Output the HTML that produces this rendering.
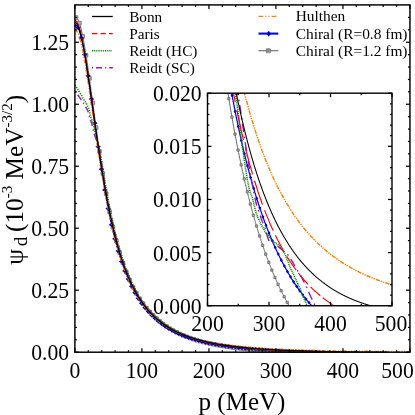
<!DOCTYPE html>
<html><head><meta charset="utf-8"><title>Deuteron wave function</title>
<style>html,body{margin:0;padding:0;background:#fff;}body{width:415px;height:415px;overflow:hidden;position:relative;font-family:"Liberation Serif",serif;}</style></head>
<body>
<svg width="415" height="415" viewBox="0 0 415 415" style="position:absolute;left:0;top:0;will-change:transform">
<rect x="0" y="0" width="415" height="415" fill="#ffffff"/>
<defs><clipPath id="cm"><rect x="74.90" y="4.90" width="335.05" height="347.90"/></clipPath><clipPath id="ci"><rect x="207.50" y="93.20" width="184.50" height="212.55"/></clipPath></defs>
<g clip-path="url(#cm)" fill="none" stroke-linejoin="round">
<path d="M74.90 17.49 L75.57 17.37 L76.24 17.59 L76.91 18.15 L77.58 19.04 L78.25 20.26 L78.92 21.80 L79.59 23.66 L80.26 25.82 L80.93 28.27 L81.60 31.00 L82.27 33.99 L82.94 37.23 L83.61 40.71 L84.28 44.40 L84.95 48.30 L85.62 52.37 L86.29 56.62 L86.96 61.02 L87.63 65.54 L88.30 70.19 L88.97 74.93 L89.64 79.74 L90.31 84.62 L90.98 89.53 L91.65 94.48 L92.32 99.45 L92.99 104.43 L93.66 109.41 L94.33 114.38 L95.00 119.32 L95.67 124.24 L96.34 129.12 L97.01 133.96 L97.68 138.75 L98.35 143.48 L99.02 148.16 L99.69 152.77 L100.36 157.32 L101.03 161.79 L101.70 166.19 L102.37 170.52 L103.04 174.77 L103.71 178.94 L104.38 183.03 L105.05 187.05 L105.72 190.97 L106.39 194.80 L107.06 198.54 L107.73 202.18 L108.41 205.73 L109.08 209.19 L109.75 212.55 L110.42 215.83 L111.09 219.01 L111.76 222.11 L112.43 225.12 L113.10 228.05 L113.77 230.89 L114.44 233.65 L115.11 236.33 L115.78 238.94 L116.45 241.48 L117.12 243.95 L117.79 246.36 L118.46 248.71 L119.13 251.00 L119.80 253.23 L120.47 255.40 L121.14 257.51 L121.81 259.58 L122.48 261.58 L123.15 263.54 L123.82 265.45 L124.49 267.30 L125.16 269.11 L125.83 270.88 L126.50 272.59 L127.17 274.27 L127.84 275.90 L128.51 277.49 L129.18 279.04 L129.85 280.55 L130.52 282.02 L131.19 283.46 L131.86 284.86 L132.53 286.22 L133.20 287.55 L133.87 288.85 L134.54 290.12 L135.21 291.35 L135.88 292.56 L136.55 293.73 L137.22 294.88 L137.89 296.00 L138.56 297.09 L139.23 298.16 L139.90 299.20 L140.57 300.21 L141.24 301.20 L141.91 302.17 L142.58 303.12 L143.25 304.04 L143.92 304.94 L144.59 305.82 L145.26 306.67 L145.93 307.51 L146.60 308.33 L147.27 309.13 L147.94 309.91 L148.61 310.67 L149.28 311.42 L149.95 312.15 L150.62 312.86 L151.29 313.56 L151.96 314.24 L152.63 314.91 L153.30 315.57 L153.97 316.21 L154.64 316.83 L155.31 317.45 L155.98 318.08 L156.65 318.70 L157.32 319.31 L157.99 319.90 L158.66 320.49 L159.33 321.05 L160.00 321.61 L160.67 322.16 L161.34 322.69 L162.01 323.22 L162.68 323.73 L163.35 324.23 L164.02 324.73 L164.69 325.21 L165.36 325.68 L166.03 326.15 L166.70 326.60 L167.37 327.05 L168.04 327.48 L168.71 327.91 L169.38 328.33 L170.05 328.74 L170.72 329.15 L171.39 329.54 L172.06 329.93 L172.73 330.31 L173.40 330.69 L174.07 331.05 L174.74 331.41 L175.41 331.77 L176.09 332.11 L176.76 332.45 L177.43 332.79 L178.10 333.11 L178.77 333.44 L179.44 333.75 L180.11 334.06 L180.78 334.37 L181.45 334.66 L182.12 334.96 L182.79 335.25 L183.46 335.53 L184.13 335.81 L184.80 336.08 L185.47 336.35 L186.14 336.61 L186.81 336.87 L187.48 337.13 L188.15 337.38 L188.82 337.62 L189.49 337.86 L190.16 338.10 L190.83 338.33 L191.50 338.56 L192.17 338.79 L192.84 339.01 L193.51 339.23 L194.18 339.44 L194.85 339.65 L195.52 339.86 L196.19 340.06 L196.86 340.26 L197.53 340.46 L198.20 340.65 L198.87 340.84 L199.54 341.03 L200.21 341.22 L200.88 341.40 L201.55 341.58 L202.22 341.75 L202.89 341.92 L203.56 342.09 L204.23 342.26 L204.90 342.43 L205.57 342.59 L206.24 342.75 L206.91 342.91 L207.58 343.06 L208.25 343.21 L208.92 343.36 L209.59 343.51 L210.26 343.65 L210.93 343.80 L211.60 343.94 L212.27 344.08 L212.94 344.21 L213.61 344.35 L214.28 344.48 L214.95 344.61 L215.62 344.74 L216.29 344.86 L216.96 344.99 L217.63 345.11 L218.30 345.23 L218.97 345.35 L219.64 345.47 L220.31 345.58 L220.98 345.70 L221.65 345.81 L222.32 345.92 L222.99 346.03 L223.66 346.14 L224.33 346.24 L225.00 346.35 L225.67 346.45 L226.34 346.55 L227.01 346.65 L227.68 346.75 L228.35 346.84 L229.02 346.94 L229.69 347.03 L230.36 347.13 L231.03 347.22 L231.70 347.31 L232.37 347.40 L233.04 347.48 L233.71 347.57 L234.38 347.66 L235.05 347.74 L235.72 347.82 L236.39 347.90 L237.06 347.98 L237.73 348.06 L238.40 348.14 L239.07 348.22 L239.74 348.30 L240.41 348.37 L241.08 348.44 L241.75 348.52 L242.42 348.59 L243.10 348.66 L243.77 348.73 L244.44 348.80 L245.11 348.87 L245.78 348.93 L246.45 349.00 L247.12 349.07 L247.79 349.13 L248.46 349.19 L249.13 349.26 L249.80 349.32 L250.47 349.38 L251.14 349.44 L251.81 349.50 L252.48 349.56 L253.15 349.62 L253.82 349.67 L254.49 349.73 L255.16 349.79 L255.83 349.84 L256.50 349.90 L257.17 349.95 L257.84 350.00 L258.51 350.06 L259.18 350.11 L259.85 350.16 L260.52 350.21 L261.19 350.26 L261.86 350.31 L262.53 350.35 L263.20 350.40 L263.87 350.45 L264.54 350.50 L265.21 350.54 L265.88 350.59 L266.55 350.63 L267.22 350.68 L267.89 350.72 L268.56 350.76 L269.23 350.80 L269.90 350.85 L270.57 350.89 L271.24 350.93 L271.91 350.97 L272.58 351.01 L273.25 351.05 L273.92 351.09 L274.59 351.12 L275.26 351.16 L275.93 351.20 L276.60 351.24 L277.27 351.27 L277.94 351.31 L278.61 351.35 L279.28 351.38 L279.95 351.41 L280.62 351.45 L281.29 351.48 L281.96 351.52 L282.63 351.55 L283.30 351.58 L283.97 351.61 L284.64 351.65 L285.31 351.68 L285.98 351.71 L286.65 351.74 L287.32 351.77 L287.99 351.80 L288.66 351.83 L289.33 351.86 L290.00 351.89 L290.67 351.92 L291.34 351.94 L292.01 351.97 L292.68 352.00 L293.35 352.03 L294.02 352.05 L294.69 352.08 L295.36 352.10 L296.03 352.13 L296.70 352.16 L297.37 352.18 L297.87 352.20" stroke="#5c5c5c" stroke-width="0.95"/>
<rect x="74.24" y="15.69" width="3.60" height="3.60" fill="#b4b4b4" stroke="#606060" stroke-width="0.7"/>
<rect x="77.59" y="21.27" width="3.60" height="3.60" fill="#b4b4b4" stroke="#606060" stroke-width="0.7"/>
<rect x="80.94" y="34.43" width="3.60" height="3.60" fill="#b4b4b4" stroke="#606060" stroke-width="0.7"/>
<rect x="84.29" y="53.53" width="3.60" height="3.60" fill="#b4b4b4" stroke="#606060" stroke-width="0.7"/>
<rect x="87.64" y="76.49" width="3.60" height="3.60" fill="#b4b4b4" stroke="#606060" stroke-width="0.7"/>
<rect x="90.99" y="101.14" width="3.60" height="3.60" fill="#b4b4b4" stroke="#606060" stroke-width="0.7"/>
<rect x="94.34" y="125.86" width="3.60" height="3.60" fill="#b4b4b4" stroke="#606060" stroke-width="0.7"/>
<rect x="97.69" y="149.59" width="3.60" height="3.60" fill="#b4b4b4" stroke="#606060" stroke-width="0.7"/>
<rect x="101.04" y="171.70" width="3.60" height="3.60" fill="#b4b4b4" stroke="#606060" stroke-width="0.7"/>
<rect x="104.39" y="191.86" width="3.60" height="3.60" fill="#b4b4b4" stroke="#606060" stroke-width="0.7"/>
<rect x="107.74" y="209.75" width="3.60" height="3.60" fill="#b4b4b4" stroke="#606060" stroke-width="0.7"/>
<rect x="111.09" y="225.38" width="3.60" height="3.60" fill="#b4b4b4" stroke="#606060" stroke-width="0.7"/>
<rect x="114.45" y="238.92" width="3.60" height="3.60" fill="#b4b4b4" stroke="#606060" stroke-width="0.7"/>
<rect x="117.80" y="250.76" width="3.60" height="3.60" fill="#b4b4b4" stroke="#606060" stroke-width="0.7"/>
<rect x="121.15" y="261.16" width="3.60" height="3.60" fill="#b4b4b4" stroke="#606060" stroke-width="0.7"/>
<rect x="124.50" y="270.28" width="3.60" height="3.60" fill="#b4b4b4" stroke="#606060" stroke-width="0.7"/>
<rect x="127.85" y="278.30" width="3.60" height="3.60" fill="#b4b4b4" stroke="#606060" stroke-width="0.7"/>
<rect x="131.20" y="285.36" width="3.60" height="3.60" fill="#b4b4b4" stroke="#606060" stroke-width="0.7"/>
<rect x="134.55" y="291.58" width="3.60" height="3.60" fill="#b4b4b4" stroke="#606060" stroke-width="0.7"/>
<rect x="137.90" y="297.09" width="3.60" height="3.60" fill="#b4b4b4" stroke="#606060" stroke-width="0.7"/>
<rect x="141.25" y="301.96" width="3.60" height="3.60" fill="#b4b4b4" stroke="#606060" stroke-width="0.7"/>
<rect x="144.60" y="306.29" width="3.60" height="3.60" fill="#b4b4b4" stroke="#606060" stroke-width="0.7"/>
<rect x="147.95" y="310.13" width="3.60" height="3.60" fill="#b4b4b4" stroke="#606060" stroke-width="0.7"/>
<rect x="151.30" y="313.57" width="3.60" height="3.60" fill="#b4b4b4" stroke="#606060" stroke-width="0.7"/>
<rect x="154.65" y="316.72" width="3.60" height="3.60" fill="#b4b4b4" stroke="#606060" stroke-width="0.7"/>
<rect x="158.00" y="319.65" width="3.60" height="3.60" fill="#b4b4b4" stroke="#606060" stroke-width="0.7"/>
<rect x="161.35" y="322.29" width="3.60" height="3.60" fill="#b4b4b4" stroke="#606060" stroke-width="0.7"/>
<rect x="164.70" y="324.67" width="3.60" height="3.60" fill="#b4b4b4" stroke="#606060" stroke-width="0.7"/>
<rect x="168.05" y="326.82" width="3.60" height="3.60" fill="#b4b4b4" stroke="#606060" stroke-width="0.7"/>
<rect x="171.40" y="328.78" width="3.60" height="3.60" fill="#b4b4b4" stroke="#606060" stroke-width="0.7"/>
<rect x="174.75" y="330.55" width="3.60" height="3.60" fill="#b4b4b4" stroke="#606060" stroke-width="0.7"/>
<rect x="178.10" y="332.17" width="3.60" height="3.60" fill="#b4b4b4" stroke="#606060" stroke-width="0.7"/>
<rect x="181.46" y="333.64" width="3.60" height="3.60" fill="#b4b4b4" stroke="#606060" stroke-width="0.7"/>
<rect x="184.81" y="334.99" width="3.60" height="3.60" fill="#b4b4b4" stroke="#606060" stroke-width="0.7"/>
<rect x="188.16" y="336.23" width="3.60" height="3.60" fill="#b4b4b4" stroke="#606060" stroke-width="0.7"/>
<rect x="191.51" y="337.36" width="3.60" height="3.60" fill="#b4b4b4" stroke="#606060" stroke-width="0.7"/>
<rect x="194.86" y="338.40" width="3.60" height="3.60" fill="#b4b4b4" stroke="#606060" stroke-width="0.7"/>
<rect x="198.21" y="339.36" width="3.60" height="3.60" fill="#b4b4b4" stroke="#606060" stroke-width="0.7"/>
<rect x="201.56" y="340.24" width="3.60" height="3.60" fill="#b4b4b4" stroke="#606060" stroke-width="0.7"/>
<rect x="204.91" y="341.06" width="3.60" height="3.60" fill="#b4b4b4" stroke="#606060" stroke-width="0.7"/>
<rect x="208.26" y="341.81" width="3.60" height="3.60" fill="#b4b4b4" stroke="#606060" stroke-width="0.7"/>
<rect x="211.61" y="342.51" width="3.60" height="3.60" fill="#b4b4b4" stroke="#606060" stroke-width="0.7"/>
<rect x="214.96" y="343.15" width="3.60" height="3.60" fill="#b4b4b4" stroke="#606060" stroke-width="0.7"/>
<rect x="218.31" y="343.75" width="3.60" height="3.60" fill="#b4b4b4" stroke="#606060" stroke-width="0.7"/>
<rect x="221.66" y="344.30" width="3.60" height="3.60" fill="#b4b4b4" stroke="#606060" stroke-width="0.7"/>
<rect x="225.01" y="344.82" width="3.60" height="3.60" fill="#b4b4b4" stroke="#606060" stroke-width="0.7"/>
<rect x="228.36" y="345.30" width="3.60" height="3.60" fill="#b4b4b4" stroke="#606060" stroke-width="0.7"/>
<rect x="231.71" y="345.74" width="3.60" height="3.60" fill="#b4b4b4" stroke="#606060" stroke-width="0.7"/>
<rect x="235.06" y="346.16" width="3.60" height="3.60" fill="#b4b4b4" stroke="#606060" stroke-width="0.7"/>
<rect x="238.41" y="346.55" width="3.60" height="3.60" fill="#b4b4b4" stroke="#606060" stroke-width="0.7"/>
<rect x="241.76" y="346.91" width="3.60" height="3.60" fill="#b4b4b4" stroke="#606060" stroke-width="0.7"/>
<rect x="245.11" y="347.25" width="3.60" height="3.60" fill="#b4b4b4" stroke="#606060" stroke-width="0.7"/>
<rect x="248.47" y="347.56" width="3.60" height="3.60" fill="#b4b4b4" stroke="#606060" stroke-width="0.7"/>
<rect x="251.82" y="347.86" width="3.60" height="3.60" fill="#b4b4b4" stroke="#606060" stroke-width="0.7"/>
<rect x="255.17" y="348.13" width="3.60" height="3.60" fill="#b4b4b4" stroke="#606060" stroke-width="0.7"/>
<rect x="258.52" y="348.39" width="3.60" height="3.60" fill="#b4b4b4" stroke="#606060" stroke-width="0.7"/>
<rect x="261.87" y="348.63" width="3.60" height="3.60" fill="#b4b4b4" stroke="#606060" stroke-width="0.7"/>
<rect x="265.22" y="348.86" width="3.60" height="3.60" fill="#b4b4b4" stroke="#606060" stroke-width="0.7"/>
<rect x="268.57" y="349.08" width="3.60" height="3.60" fill="#b4b4b4" stroke="#606060" stroke-width="0.7"/>
<rect x="271.92" y="349.27" width="3.60" height="3.60" fill="#b4b4b4" stroke="#606060" stroke-width="0.7"/>
<rect x="275.27" y="349.46" width="3.60" height="3.60" fill="#b4b4b4" stroke="#606060" stroke-width="0.7"/>
<rect x="278.62" y="349.64" width="3.60" height="3.60" fill="#b4b4b4" stroke="#606060" stroke-width="0.7"/>
<rect x="281.97" y="349.80" width="3.60" height="3.60" fill="#b4b4b4" stroke="#606060" stroke-width="0.7"/>
<rect x="285.32" y="349.96" width="3.60" height="3.60" fill="#b4b4b4" stroke="#606060" stroke-width="0.7"/>
<rect x="288.67" y="350.11" width="3.60" height="3.60" fill="#b4b4b4" stroke="#606060" stroke-width="0.7"/>
<rect x="292.02" y="350.24" width="3.60" height="3.60" fill="#b4b4b4" stroke="#606060" stroke-width="0.7"/>
<rect x="295.37" y="350.37" width="3.60" height="3.60" fill="#b4b4b4" stroke="#606060" stroke-width="0.7"/>
<path d="M74.90 25.40 L75.57 25.29 L76.24 25.52 L76.91 26.09 L77.58 26.98 L78.25 28.20 L78.92 29.74 L79.59 31.59 L80.26 33.73 L80.93 36.15 L81.60 38.85 L82.27 41.80 L82.94 44.99 L83.61 48.40 L84.28 52.02 L84.95 55.83 L85.62 59.82 L86.29 63.96 L86.96 68.24 L87.63 72.64 L88.30 77.14 L88.97 81.73 L89.64 86.37 L90.31 91.05 L90.98 95.77 L91.65 100.51 L92.32 105.27 L92.99 110.06 L93.66 114.87 L94.33 119.68 L95.00 124.49 L95.67 129.28 L96.34 134.05 L97.01 138.78 L97.68 143.48 L98.35 148.13 L99.02 152.73 L99.69 157.27 L100.36 161.75 L101.03 166.17 L101.70 170.52 L102.37 174.79 L103.04 178.99 L103.71 183.11 L104.38 187.16 L105.05 191.12 L105.72 195.00 L106.39 198.79 L107.06 202.48 L107.73 206.07 L108.41 209.57 L109.08 212.98 L109.75 216.30 L110.42 219.52 L111.09 222.65 L111.76 225.69 L112.43 228.64 L113.10 231.50 L113.77 234.28 L114.44 236.97 L115.11 239.58 L115.78 242.11 L116.45 244.58 L117.12 246.98 L117.79 249.32 L118.46 251.61 L119.13 253.83 L119.80 256.00 L120.47 258.11 L121.14 260.17 L121.81 262.17 L122.48 264.12 L123.15 266.02 L123.82 267.88 L124.49 269.68 L125.16 271.44 L125.83 273.15 L126.50 274.82 L127.17 276.45 L127.84 278.04 L128.51 279.58 L129.18 281.09 L129.85 282.56 L130.52 283.99 L131.19 285.38 L131.86 286.74 L132.53 288.07 L133.20 289.36 L133.87 290.63 L134.54 291.86 L135.21 293.06 L135.88 294.23 L136.55 295.37 L137.22 296.48 L137.89 297.57 L138.56 298.63 L139.23 299.67 L139.90 300.68 L140.57 301.67 L141.24 302.63 L141.91 303.57 L142.58 304.49 L143.25 305.39 L143.92 306.26 L144.59 307.12 L145.26 307.95 L145.93 308.76 L146.60 309.56 L147.27 310.33 L147.94 311.09 L148.61 311.83 L149.28 312.56 L149.95 313.27 L150.62 313.96 L151.29 314.64 L151.96 315.30 L152.63 315.95 L153.30 316.58 L153.97 317.21 L154.64 317.82 L155.31 318.41 L155.98 319.02 L156.65 319.62 L157.32 320.20 L157.99 320.77 L158.66 321.33 L159.33 321.88 L160.00 322.41 L160.67 322.93 L161.34 323.45 L162.01 323.95 L162.68 324.44 L163.35 324.92 L164.02 325.39 L164.69 325.85 L165.36 326.31 L166.03 326.75 L166.70 327.18 L167.37 327.61 L168.04 328.03 L168.71 328.43 L169.38 328.83 L170.05 329.23 L170.72 329.61 L171.39 329.99 L172.06 330.36 L172.73 330.72 L173.40 331.08 L174.07 331.43 L174.74 331.77 L175.41 332.11 L176.09 332.44 L176.76 332.76 L177.43 333.08 L178.10 333.39 L178.77 333.69 L179.44 333.99 L180.11 334.29 L180.78 334.58 L181.45 334.86 L182.12 335.14 L182.79 335.41 L183.46 335.68 L184.13 335.94 L184.80 336.20 L185.47 336.46 L186.14 336.71 L186.81 336.95 L187.48 337.19 L188.15 337.43 L188.82 337.66 L189.49 337.89 L190.16 338.12 L190.83 338.34 L191.50 338.55 L192.17 338.77 L192.84 338.98 L193.51 339.18 L194.18 339.38 L194.85 339.58 L195.52 339.78 L196.19 339.97 L196.86 340.16 L197.53 340.35 L198.20 340.53 L198.87 340.71 L199.54 340.89 L200.21 341.06 L200.88 341.23 L201.55 341.40 L202.22 341.57 L202.89 341.73 L203.56 341.89 L204.23 342.05 L204.90 342.20 L205.57 342.36 L206.24 342.51 L206.91 342.66 L207.58 342.80 L208.25 342.94 L208.92 343.09 L209.59 343.22 L210.26 343.36 L210.93 343.50 L211.60 343.63 L212.27 343.76 L212.94 343.89 L213.61 344.02 L214.28 344.14 L214.95 344.26 L215.62 344.38 L216.29 344.50 L216.96 344.62 L217.63 344.74 L218.30 344.85 L218.97 344.96 L219.64 345.07 L220.31 345.18 L220.98 345.29 L221.65 345.39 L222.32 345.50 L222.99 345.60 L223.66 345.70 L224.33 345.80 L225.00 345.90 L225.67 346.00 L226.34 346.09 L227.01 346.19 L227.68 346.28 L228.35 346.37 L229.02 346.46 L229.69 346.55 L230.36 346.64 L231.03 346.72 L231.70 346.81 L232.37 346.89 L233.04 346.97 L233.71 347.06 L234.38 347.14 L235.05 347.22 L235.72 347.29 L236.39 347.37 L237.06 347.45 L237.73 347.52 L238.40 347.60 L239.07 347.67 L239.74 347.74 L240.41 347.81 L241.08 347.88 L241.75 347.95 L242.42 348.02 L243.10 348.09 L243.77 348.15 L244.44 348.22 L245.11 348.28 L245.78 348.35 L246.45 348.41 L247.12 348.47 L247.79 348.53 L248.46 348.59 L249.13 348.65 L249.80 348.71 L250.47 348.77 L251.14 348.83 L251.81 348.88 L252.48 348.94 L253.15 348.99 L253.82 349.05 L254.49 349.10 L255.16 349.15 L255.83 349.21 L256.50 349.26 L257.17 349.31 L257.84 349.36 L258.51 349.41 L259.18 349.46 L259.85 349.51 L260.52 349.55 L261.19 349.60 L261.86 349.65 L262.53 349.69 L263.20 349.74 L263.87 349.78 L264.54 349.83 L265.21 349.87 L265.88 349.92 L266.55 349.96 L267.22 350.00 L267.89 350.04 L268.56 350.08 L269.23 350.12 L269.90 350.16 L270.57 350.20 L271.24 350.24 L271.91 350.28 L272.58 350.32 L273.25 350.36 L273.92 350.39 L274.59 350.43 L275.26 350.47 L275.93 350.50 L276.60 350.54 L277.27 350.57 L277.94 350.61 L278.61 350.64 L279.28 350.68 L279.95 350.71 L280.62 350.74 L281.29 350.78 L281.96 350.81 L282.63 350.84 L283.30 350.87 L283.97 350.90 L284.64 350.93 L285.31 350.96 L285.98 350.99 L286.65 351.02 L287.32 351.05 L287.99 351.08 L288.66 351.11 L289.33 351.14 L290.00 351.17 L290.67 351.19 L291.34 351.22 L292.01 351.25 L292.68 351.27 L293.35 351.30 L294.02 351.33 L294.69 351.35 L295.36 351.38 L296.03 351.40 L296.70 351.43 L297.37 351.45 L298.04 351.48 L298.71 351.50 L299.38 351.53 L300.05 351.55 L300.72 351.57 L301.39 351.60 L302.06 351.62 L302.73 351.64 L303.40 351.66 L304.07 351.68 L304.74 351.71 L305.41 351.73 L306.08 351.75 L306.75 351.77 L307.42 351.79 L308.09 351.81 L308.76 351.83 L309.43 351.85 L310.11 351.87 L310.78 351.89 L311.45 351.91 L312.12 351.93 L312.79 351.95 L313.46 351.97 L314.13 351.99 L314.80 352.00 L315.47 352.02 L316.14 352.04 L316.81 352.06 L317.48 352.08 L318.15 352.09 L318.82 352.11 L319.49 352.13 L320.16 352.14 L320.83 352.16 L321.50 352.18 L322.17 352.19 L322.46 352.20" stroke="#0000ff" stroke-width="1.25"/>
<path d="M74.70 23.40 l2.80 2.10 l-2.80 2.10 l-2.80 -2.10 z" fill="#0000c8"/>
<path d="M78.05 25.70 l2.80 2.10 l-2.80 2.10 l-2.80 -2.10 z" fill="#0000c8"/>
<path d="M81.40 35.91 l2.80 2.10 l-2.80 2.10 l-2.80 -2.10 z" fill="#0000c8"/>
<path d="M84.75 52.57 l2.80 2.10 l-2.80 2.10 l-2.80 -2.10 z" fill="#0000c8"/>
<path d="M88.10 73.68 l2.80 2.10 l-2.80 2.10 l-2.80 -2.10 z" fill="#0000c8"/>
<path d="M91.45 96.98 l2.80 2.10 l-2.80 2.10 l-2.80 -2.10 z" fill="#0000c8"/>
<path d="M94.80 120.95 l2.80 2.10 l-2.80 2.10 l-2.80 -2.10 z" fill="#0000c8"/>
<path d="M98.15 144.64 l2.80 2.10 l-2.80 2.10 l-2.80 -2.10 z" fill="#0000c8"/>
<path d="M101.50 167.12 l2.80 2.10 l-2.80 2.10 l-2.80 -2.10 z" fill="#0000c8"/>
<path d="M104.85 187.84 l2.80 2.10 l-2.80 2.10 l-2.80 -2.10 z" fill="#0000c8"/>
<path d="M108.20 206.43 l2.80 2.10 l-2.80 2.10 l-2.80 -2.10 z" fill="#0000c8"/>
<path d="M111.55 222.69 l2.80 2.10 l-2.80 2.10 l-2.80 -2.10 z" fill="#0000c8"/>
<path d="M114.90 236.70 l2.80 2.10 l-2.80 2.10 l-2.80 -2.10 z" fill="#0000c8"/>
<path d="M118.26 248.83 l2.80 2.10 l-2.80 2.10 l-2.80 -2.10 z" fill="#0000c8"/>
<path d="M121.61 259.47 l2.80 2.10 l-2.80 2.10 l-2.80 -2.10 z" fill="#0000c8"/>
<path d="M124.96 268.82 l2.80 2.10 l-2.80 2.10 l-2.80 -2.10 z" fill="#0000c8"/>
<path d="M128.31 277.02 l2.80 2.10 l-2.80 2.10 l-2.80 -2.10 z" fill="#0000c8"/>
<path d="M131.66 284.24 l2.80 2.10 l-2.80 2.10 l-2.80 -2.10 z" fill="#0000c8"/>
<path d="M135.01 290.60 l2.80 2.10 l-2.80 2.10 l-2.80 -2.10 z" fill="#0000c8"/>
<path d="M138.36 296.22 l2.80 2.10 l-2.80 2.10 l-2.80 -2.10 z" fill="#0000c8"/>
<path d="M141.71 301.19 l2.80 2.10 l-2.80 2.10 l-2.80 -2.10 z" fill="#0000c8"/>
<path d="M145.06 305.60 l2.80 2.10 l-2.80 2.10 l-2.80 -2.10 z" fill="#0000c8"/>
<path d="M148.41 309.51 l2.80 2.10 l-2.80 2.10 l-2.80 -2.10 z" fill="#0000c8"/>
<path d="M151.76 313.00 l2.80 2.10 l-2.80 2.10 l-2.80 -2.10 z" fill="#0000c8"/>
<path d="M155.11 316.14 l2.80 2.10 l-2.80 2.10 l-2.80 -2.10 z" fill="#0000c8"/>
<path d="M158.46 319.06 l2.80 2.10 l-2.80 2.10 l-2.80 -2.10 z" fill="#0000c8"/>
<path d="M161.81 321.70 l2.80 2.10 l-2.80 2.10 l-2.80 -2.10 z" fill="#0000c8"/>
<path d="M165.16 324.07 l2.80 2.10 l-2.80 2.10 l-2.80 -2.10 z" fill="#0000c8"/>
<path d="M168.51 326.21 l2.80 2.10 l-2.80 2.10 l-2.80 -2.10 z" fill="#0000c8"/>
<path d="M171.86 328.15 l2.80 2.10 l-2.80 2.10 l-2.80 -2.10 z" fill="#0000c8"/>
<path d="M175.21 329.91 l2.80 2.10 l-2.80 2.10 l-2.80 -2.10 z" fill="#0000c8"/>
<path d="M178.56 331.50 l2.80 2.10 l-2.80 2.10 l-2.80 -2.10 z" fill="#0000c8"/>
<path d="M181.91 332.95 l2.80 2.10 l-2.80 2.10 l-2.80 -2.10 z" fill="#0000c8"/>
<path d="M185.27 334.28 l2.80 2.10 l-2.80 2.10 l-2.80 -2.10 z" fill="#0000c8"/>
<path d="M188.62 335.49 l2.80 2.10 l-2.80 2.10 l-2.80 -2.10 z" fill="#0000c8"/>
<path d="M191.97 336.60 l2.80 2.10 l-2.80 2.10 l-2.80 -2.10 z" fill="#0000c8"/>
<path d="M195.32 337.62 l2.80 2.10 l-2.80 2.10 l-2.80 -2.10 z" fill="#0000c8"/>
<path d="M198.67 338.56 l2.80 2.10 l-2.80 2.10 l-2.80 -2.10 z" fill="#0000c8"/>
<path d="M202.02 339.42 l2.80 2.10 l-2.80 2.10 l-2.80 -2.10 z" fill="#0000c8"/>
<path d="M205.37 340.21 l2.80 2.10 l-2.80 2.10 l-2.80 -2.10 z" fill="#0000c8"/>
<path d="M208.72 340.94 l2.80 2.10 l-2.80 2.10 l-2.80 -2.10 z" fill="#0000c8"/>
<path d="M212.07 341.62 l2.80 2.10 l-2.80 2.10 l-2.80 -2.10 z" fill="#0000c8"/>
<path d="M215.42 342.25 l2.80 2.10 l-2.80 2.10 l-2.80 -2.10 z" fill="#0000c8"/>
<path d="M218.77 342.83 l2.80 2.10 l-2.80 2.10 l-2.80 -2.10 z" fill="#0000c8"/>
<path d="M222.12 343.37 l2.80 2.10 l-2.80 2.10 l-2.80 -2.10 z" fill="#0000c8"/>
<path d="M225.47 343.87 l2.80 2.10 l-2.80 2.10 l-2.80 -2.10 z" fill="#0000c8"/>
<path d="M228.82 344.33 l2.80 2.10 l-2.80 2.10 l-2.80 -2.10 z" fill="#0000c8"/>
<path d="M232.17 344.77 l2.80 2.10 l-2.80 2.10 l-2.80 -2.10 z" fill="#0000c8"/>
<path d="M235.52 345.17 l2.80 2.10 l-2.80 2.10 l-2.80 -2.10 z" fill="#0000c8"/>
<path d="M238.87 345.55 l2.80 2.10 l-2.80 2.10 l-2.80 -2.10 z" fill="#0000c8"/>
<path d="M242.22 345.90 l2.80 2.10 l-2.80 2.10 l-2.80 -2.10 z" fill="#0000c8"/>
<path d="M245.57 346.23 l2.80 2.10 l-2.80 2.10 l-2.80 -2.10 z" fill="#0000c8"/>
<path d="M248.92 346.53 l2.80 2.10 l-2.80 2.10 l-2.80 -2.10 z" fill="#0000c8"/>
<path d="M252.28 346.82 l2.80 2.10 l-2.80 2.10 l-2.80 -2.10 z" fill="#0000c8"/>
<path d="M255.63 347.09 l2.80 2.10 l-2.80 2.10 l-2.80 -2.10 z" fill="#0000c8"/>
<path d="M258.98 347.34 l2.80 2.10 l-2.80 2.10 l-2.80 -2.10 z" fill="#0000c8"/>
<path d="M262.33 347.58 l2.80 2.10 l-2.80 2.10 l-2.80 -2.10 z" fill="#0000c8"/>
<path d="M265.68 347.80 l2.80 2.10 l-2.80 2.10 l-2.80 -2.10 z" fill="#0000c8"/>
<path d="M269.03 348.01 l2.80 2.10 l-2.80 2.10 l-2.80 -2.10 z" fill="#0000c8"/>
<path d="M272.38 348.21 l2.80 2.10 l-2.80 2.10 l-2.80 -2.10 z" fill="#0000c8"/>
<path d="M275.73 348.39 l2.80 2.10 l-2.80 2.10 l-2.80 -2.10 z" fill="#0000c8"/>
<path d="M279.08 348.57 l2.80 2.10 l-2.80 2.10 l-2.80 -2.10 z" fill="#0000c8"/>
<path d="M282.43 348.73 l2.80 2.10 l-2.80 2.10 l-2.80 -2.10 z" fill="#0000c8"/>
<path d="M285.78 348.88 l2.80 2.10 l-2.80 2.10 l-2.80 -2.10 z" fill="#0000c8"/>
<path d="M289.13 349.03 l2.80 2.10 l-2.80 2.10 l-2.80 -2.10 z" fill="#0000c8"/>
<path d="M292.48 349.17 l2.80 2.10 l-2.80 2.10 l-2.80 -2.10 z" fill="#0000c8"/>
<path d="M295.83 349.30 l2.80 2.10 l-2.80 2.10 l-2.80 -2.10 z" fill="#0000c8"/>
<path d="M299.18 349.42 l2.80 2.10 l-2.80 2.10 l-2.80 -2.10 z" fill="#0000c8"/>
<path d="M302.53 349.53 l2.80 2.10 l-2.80 2.10 l-2.80 -2.10 z" fill="#0000c8"/>
<path d="M305.88 349.64 l2.80 2.10 l-2.80 2.10 l-2.80 -2.10 z" fill="#0000c8"/>
<path d="M309.23 349.75 l2.80 2.10 l-2.80 2.10 l-2.80 -2.10 z" fill="#0000c8"/>
<path d="M312.58 349.84 l2.80 2.10 l-2.80 2.10 l-2.80 -2.10 z" fill="#0000c8"/>
<path d="M315.93 349.93 l2.80 2.10 l-2.80 2.10 l-2.80 -2.10 z" fill="#0000c8"/>
<path d="M319.29 350.02 l2.80 2.10 l-2.80 2.10 l-2.80 -2.10 z" fill="#0000c8"/>
<path d="M74.9 29.9 L75.6 30.1 L76.2 30.6 L76.9 31.4 L77.5 32.4M78.2 33.9 L78.3 33.9 L78.6 34.8M79.1 36.3 L79.4 37.2M79.9 38.8 L80.3 40.0 L80.9 42.4M81.3 44.0 L81.5 45.0M81.9 46.5 L82.1 47.5M82.4 49.1 L82.9 51.6 L83.2 52.8M83.5 54.4 L83.6 55.1 L83.7 55.4M83.9 56.9 L84.1 57.9M84.4 59.5 L85.0 62.6 L85.1 63.2M85.3 64.8 L85.5 65.8M85.8 67.4 L85.9 68.4M86.2 69.9 L86.3 70.7 L86.8 73.7M87.0 75.3 L87.2 76.3M87.4 77.8 L87.6 78.8M87.8 80.4 L88.3 83.7 L88.4 84.2M88.6 85.8 L88.7 86.7M89.0 88.3 L89.1 89.3M89.4 90.9 L89.6 92.8 L89.9 94.7M90.1 96.2 L90.3 97.2M90.5 98.8 L90.7 99.8M90.9 101.4 L91.0 102.0 L91.4 105.1M91.7 106.7 L91.8 107.7M92.0 109.3 L92.2 110.3M92.4 111.9 L92.9 115.6M93.2 117.2 L93.3 118.2M93.5 119.8 L93.7 120.6 L93.7 120.8M93.9 122.4 L94.3 125.2 L94.5 126.1M94.7 127.7 L94.8 128.7M95.1 130.3 L95.2 131.3M95.5 132.9 L95.7 134.3 L96.0 136.6M96.2 138.2 L96.3 138.8 L96.4 139.2M96.6 140.8 L96.8 141.8M97.0 143.3 L97.6 147.1M97.8 148.7 L98.0 149.7M98.2 151.2 L98.4 152.1 L98.4 152.2M98.6 153.8 L99.0 156.4 L99.2 157.6M99.5 159.2 L99.6 160.1M99.9 161.7 L100.0 162.7M100.3 164.3 L100.4 164.9 L100.9 168.0M101.1 169.6 L101.3 170.6M101.6 172.2 L101.7 173.1 L101.7 173.2M102.0 174.7 L102.4 177.1 L102.6 178.5M102.9 180.1 L103.0 181.0 L103.0 181.1M103.3 182.6 L103.5 183.6M103.8 185.2 L104.4 188.7 L104.4 188.9M104.7 190.5 L104.9 191.5M105.2 193.1 L105.4 194.1M105.6 195.6 L105.7 196.1 L106.3 199.4M106.6 200.9 L106.8 201.9M107.1 203.5 L107.3 204.5M107.6 206.0 L107.7 206.6 L108.4 209.8M108.7 211.3 L108.9 212.3M109.2 213.9 L109.4 214.9M109.8 216.4 L110.4 219.5 L110.6 220.1M110.9 221.7 L111.1 222.5 L111.1 222.7M111.5 224.2 L111.7 225.2M112.1 226.8 L112.4 228.4 L112.9 230.5M113.3 232.0 L113.5 233.0M113.9 234.6 L114.2 235.5M114.6 237.1 L115.1 239.2 L115.5 240.8M115.9 242.3 L116.2 243.3M116.6 244.8 L116.9 245.8M117.3 247.3 L117.8 249.0 L118.4 251.0M118.8 252.5 L119.1 253.5M119.6 255.0 L119.8 255.7 L119.9 255.9M120.4 257.5 L120.5 257.8 L121.1 259.9 L121.5 261.1M122.0 262.6 L122.4 263.5M122.9 265.0 L123.1 265.8 L123.2 266.0M123.8 267.5 L123.8 267.6 L124.5 269.4 L125.1 271.1M125.7 272.5 L125.8 272.9 L126.1 273.5M126.7 275.0 L127.0 275.9M127.6 277.4 L127.8 277.8 L128.5 279.4 L129.2 280.8M129.8 282.3 L129.8 282.3 L130.3 283.2M130.9 284.7 L131.2 285.2 L131.4 285.6M132.1 287.0 L132.5 287.9 L133.2 289.2 L133.8 290.4M134.6 291.8 L135.1 292.6M135.9 294.0 L135.9 294.0 L136.4 294.9M137.2 296.3 L137.2 296.3 L137.9 297.4 L138.6 298.5 L139.2 299.5M140.1 300.8 L140.6 301.5 L140.7 301.6M141.6 303.0 L141.9 303.4 L142.2 303.8M143.1 305.1 L143.3 305.3 L143.9 306.1 L144.6 307.0 L145.3 307.9 L145.4 308.1M146.4 309.3 L146.6 309.5 L147.1 310.1M148.1 311.3 L148.6 311.8 L148.8 312.0M149.9 313.2 L150.0 313.3 L150.6 314.0 L151.3 314.7 L152.0 315.4 L152.5 315.9M153.7 317.0 L154.0 317.3 L154.4 317.7M155.6 318.8 L156.0 319.1 L156.4 319.4M157.6 320.4 L158.0 320.7 L158.7 321.2 L159.3 321.8 L160.0 322.3 L160.6 322.7M161.9 323.7 L162.0 323.7 L162.7 324.2 L162.8 324.2M164.1 325.1 L164.7 325.5 L164.9 325.7M166.3 326.5 L166.7 326.8 L167.4 327.2 L168.0 327.6 L168.7 327.9 L169.4 328.3 L169.6 328.4M171.0 329.2 L171.4 329.4 L171.9 329.7M173.3 330.4 L173.4 330.4 L174.1 330.8 L174.2 330.8M175.6 331.5 L176.1 331.7 L176.8 332.0 L177.4 332.3 L178.1 332.6 L178.8 332.9 L179.1 333.1M180.6 333.7 L180.8 333.8 L181.4 334.0 L181.5 334.1M183.0 334.6 L183.5 334.8 L183.9 335.0M185.4 335.5 L185.5 335.6 L186.1 335.8 L186.8 336.0 L187.5 336.3 L188.1 336.5 L188.8 336.7 L189.0 336.8M190.6 337.3 L190.8 337.4 L191.5 337.6 L191.5 337.6M193.0 338.0 L193.5 338.2 L194.0 338.3M195.5 338.7 L196.2 338.9 L196.9 339.1 L197.5 339.3 L198.2 339.5 L198.9 339.6 L199.2 339.7M200.8 340.1 L200.9 340.1 L201.5 340.3 L201.7 340.3M203.3 340.7 L203.6 340.8 L204.2 340.9 L204.3 340.9M205.8 341.3 L206.2 341.3 L206.9 341.5 L207.6 341.6 L208.2 341.8 L208.9 341.9 L209.6 342.0M211.1 342.3 L211.6 342.4 L212.1 342.5M213.7 342.8 L214.3 342.9 L214.7 343.0M216.2 343.3 L216.3 343.3 L217.0 343.4 L217.6 343.5 L218.3 343.6 L219.0 343.7 L219.6 343.8 L220.0 343.9M221.6 344.1 L221.7 344.1 L222.3 344.2 L222.6 344.2M224.2 344.5 L224.3 344.5 L225.0 344.6 L225.1 344.6M226.7 344.8 L227.0 344.9 L227.7 345.0 L228.4 345.0 L229.0 345.1 L229.7 345.2 L230.4 345.3 L230.5 345.3M232.1 345.5 L232.4 345.5 L233.0 345.6 L233.1 345.6M234.7 345.8 L235.1 345.9 L235.7 345.9M237.3 346.1 L237.7 346.1 L238.4 346.2 L239.1 346.3 L239.7 346.4 L240.4 346.4 L241.0 346.5M242.6 346.6 L243.1 346.7 L243.6 346.7M245.2 346.9 L245.8 346.9 L246.2 347.0M247.8 347.1 L248.5 347.2 L249.1 347.2 L249.8 347.3 L250.5 347.3 L251.1 347.4 L251.6 347.4M253.2 347.6 L253.8 347.6 L254.2 347.6M255.8 347.8 L255.8 347.8 L256.5 347.8 L256.8 347.8M258.4 347.9 L258.5 347.9 L259.2 348.0 L259.8 348.0 L260.5 348.1 L261.2 348.1 L261.9 348.2 L262.2 348.2M263.8 348.3 L263.9 348.3 L264.5 348.3 L264.8 348.4M266.4 348.5 L266.5 348.5 L267.2 348.5 L267.4 348.5M268.9 348.6 L269.2 348.6 L269.9 348.7 L270.6 348.7 L271.2 348.7 L271.9 348.8 L272.6 348.8 L272.7 348.8M274.3 348.9 L274.6 348.9 L275.3 349.0 L275.3 349.0M276.9 349.0 L277.3 349.1 L277.9 349.1M279.5 349.2 L280.0 349.2 L280.6 349.2 L281.3 349.2 L282.0 349.3 L282.6 349.3 L283.3 349.3 L283.3 349.3M284.9 349.4 L285.3 349.4 L285.9 349.5M287.5 349.5 L288.0 349.5 L288.5 349.6M290.1 349.6 L290.7 349.6 L291.3 349.7 L292.0 349.7 L292.7 349.7 L293.4 349.7 L293.9 349.8M295.5 349.8 L296.0 349.8 L296.5 349.9M298.1 349.9 L298.7 349.9 L299.1 349.9M300.7 350.0 L300.7 350.0 L301.4 350.0 L302.1 350.0 L302.7 350.1 L303.4 350.1 L304.1 350.1 L304.5 350.1M306.1 350.2 L306.8 350.2 L307.1 350.2M308.7 350.2 L308.8 350.2 L309.4 350.3 L309.7 350.3M311.3 350.3 L311.4 350.3 L312.1 350.3 L312.8 350.4 L313.5 350.4 L314.1 350.4 L314.8 350.4 L315.1 350.4M316.7 350.5 L316.8 350.5 L317.5 350.5 L317.7 350.5M319.3 350.5 L319.5 350.5 L320.2 350.5 L320.3 350.5M321.9 350.6 L322.2 350.6 L322.8 350.6 L323.5 350.6 L324.2 350.6 L324.8 350.7 L325.5 350.7 L325.7 350.7M327.3 350.7 L327.5 350.7 L328.2 350.7 L328.3 350.7M329.9 350.8 L330.2 350.8 L330.9 350.8 L330.9 350.8M332.5 350.8 L332.9 350.8 L333.6 350.8 L334.2 350.8 L334.9 350.9 L335.6 350.9 L336.2 350.9 L336.3 350.9M337.9 350.9 L338.2 350.9 L338.9 350.9M340.5 351.0 L340.9 351.0 L341.5 351.0M343.1 351.0 L343.6 351.0 L344.3 351.0 L345.0 351.0 L345.6 351.0 L346.3 351.1 L346.9 351.1M348.5 351.1 L349.0 351.1 L349.5 351.1M351.1 351.1 L351.7 351.1 L352.1 351.1M353.7 351.2 L354.3 351.2 L355.0 351.2 L355.7 351.2 L356.3 351.2 L357.0 351.2 L357.5 351.2M359.1 351.2 L359.7 351.2 L360.1 351.3M361.7 351.3 L361.7 351.3 L362.4 351.3 L362.7 351.3M364.3 351.3 L364.4 351.3 L365.1 351.3 L365.7 351.3 L366.4 351.3 L367.1 351.3 L367.7 351.3 L368.1 351.3M369.7 351.4 L369.7 351.4 L370.4 351.4 L370.7 351.4M372.3 351.4 L372.4 351.4 L373.1 351.4 L373.3 351.4M374.9 351.4 L375.1 351.4 L375.8 351.4 L376.4 351.4 L377.1 351.4 L377.8 351.5 L378.5 351.5 L378.7 351.5M380.3 351.5 L380.5 351.5 L381.1 351.5 L381.3 351.5M382.9 351.5 L383.1 351.5 L383.8 351.5 L383.9 351.5M385.5 351.5 L385.8 351.5 L386.5 351.5 L387.2 351.5 L387.8 351.5 L388.5 351.6 L389.2 351.6 L389.3 351.6M390.9 351.6 L391.2 351.6 L391.9 351.6 L391.9 351.6M393.5 351.6 L393.9 351.6 L394.5 351.6M396.1 351.6 L396.5 351.6 L397.2 351.6 L397.9 351.6 L398.6 351.6 L399.2 351.6 L399.9 351.6 L399.9 351.6M401.5 351.7 L401.9 351.7 L402.5 351.7M404.1 351.7 L404.6 351.7 L405.1 351.7M406.7 351.7 L407.3 351.7 L407.9 351.7 L408.6 351.7 L409.3 351.7 L409.9 351.7" stroke="#ff8000" stroke-width="1.45"/>
<path d="M74.9 91.4 L75.6 92.1 L75.7 92.3M77.7 94.8 L78.3 95.5 L78.9 96.4 L79.6 97.3 L80.3 98.3 L80.9 99.3 L81.5 100.1M83.3 102.9 L83.6 103.5 L83.9 104.0M85.5 106.7 L85.6 106.9 L86.3 108.0 L87.0 109.2 L87.6 110.5 L88.3 112.3 L88.4 112.5M89.2 115.8 L89.5 117.0M90.4 120.1 L91.0 121.6 L91.7 123.3 L92.3 126.2 L92.3 126.2M93.0 129.6 L93.4 130.7M94.2 133.8 L94.3 134.1 L95.0 136.2 L95.7 138.2 L96.3 140.0M97.3 143.2 L97.7 144.2 L97.7 144.3M98.8 147.4 L99.0 148.1 L99.7 149.9 L100.3 153.7M100.8 157.0 L101.0 158.2M101.5 161.4 L101.7 163.0 L102.4 167.2 L102.5 167.8M103.0 171.2 L103.0 171.4 L103.2 172.3M103.7 175.5 L104.4 179.5 L104.8 181.9M105.4 185.3 L105.6 186.4M106.1 189.6 L106.4 191.1 L107.1 194.8 L107.3 196.0M107.9 199.3 L108.1 200.5M108.7 203.6 L109.1 205.4 L109.7 208.7 L110.0 210.0M110.7 213.4 L110.9 214.5M111.6 217.7 L111.8 218.4 L112.4 221.4 L113.0 224.0M113.8 227.3 L114.1 228.5M114.8 231.6 L115.1 232.9 L115.8 235.5 L116.4 237.9M117.2 241.2 L117.6 242.3M118.4 245.4 L118.5 245.6 L119.1 248.0 L119.8 250.3 L120.2 251.7M121.2 254.9 L121.6 256.1M122.6 259.1 L123.1 260.9 L123.8 262.8 L124.5 264.8 L124.7 265.3M125.8 268.5 L126.3 269.6M127.4 272.6 L127.8 273.6 L128.5 275.2 L129.2 276.8 L129.8 278.4 L129.9 278.6M131.3 281.7 L131.8 282.8M133.2 285.6 L133.9 287.0 L134.5 288.3 L135.2 289.5 L135.9 290.8 L136.2 291.4M137.9 294.3 L138.5 295.4M140.2 298.1 L140.6 298.7 L141.2 299.7 L141.9 300.7 L142.6 301.6 L143.3 302.6 L143.9 303.5M145.9 306.2 L145.9 306.2 L146.6 307.0 L146.7 307.1M148.7 309.6 L149.3 310.2 L150.0 311.0 L150.6 311.7 L151.3 312.4 L152.0 313.1 L152.6 313.8 L153.1 314.3M155.6 316.7 L156.0 317.1 L156.5 317.5M158.9 319.6 L159.3 320.0 L160.0 320.5 L160.7 321.1 L161.3 321.6 L162.0 322.1 L162.7 322.7 L163.4 323.2 L164.0 323.6M166.8 325.6 L167.4 326.0 L167.8 326.2M170.5 327.9 L170.7 328.1 L171.4 328.5 L172.1 328.9 L172.7 329.2 L173.4 329.6 L174.1 330.0 L174.7 330.3 L175.4 330.7 L176.1 331.0 L176.2 331.1M179.2 332.6 L179.4 332.7 L180.1 333.0 L180.3 333.1M183.2 334.4 L183.5 334.5 L184.1 334.7 L184.8 335.0 L185.5 335.3 L186.1 335.5 L186.8 335.8 L187.5 336.1 L188.1 336.3 L188.8 336.5 L189.3 336.7M192.5 337.8 L192.8 337.9 L193.5 338.2 L193.7 338.2M196.7 339.1 L197.5 339.4 L198.9 339.8 L200.2 340.1 L201.5 340.5 L202.9 340.8 L203.0 340.8M206.3 341.6 L206.9 341.8 L207.5 341.9M210.6 342.5 L211.6 342.8 L212.9 343.0 L214.3 343.3 L215.6 343.5 L217.0 343.8 L217.0 343.8M220.3 344.3 L221.0 344.4 L221.5 344.5M224.7 345.0 L225.7 345.2 L227.0 345.4 L228.4 345.5 L229.7 345.7 L231.0 345.9 L231.1 345.9M234.5 346.4 L235.1 346.4 L235.7 346.5M238.9 346.9 L239.7 347.0 L241.1 347.2 L242.4 347.3 L243.8 347.5 L245.1 347.7 L245.3 347.7M248.7 348.2 L249.1 348.3 L249.8 348.4 L249.9 348.4M253.0 348.8 L253.8 348.9 L255.2 349.1 L256.5 349.2 L257.8 349.4 L259.2 349.5 L259.5 349.6M262.9 349.9 L263.2 349.9 L263.9 349.9 L264.1 350.0M267.3 350.2 L267.9 350.2 L268.6 350.2 L269.2 350.3 L269.9 350.3 L270.6 350.3 L271.2 350.4 L271.9 350.4 L272.6 350.5 L273.2 350.5 L273.8 350.6M277.1 350.7 L277.3 350.7 L277.9 350.7 L278.3 350.7M281.5 350.7 L282.6 350.8 L284.0 350.8 L285.3 350.8 L286.7 350.8 L288.0 350.9 L288.0 350.9M291.4 350.9 L292.0 350.9 L292.6 350.9M295.8 351.0 L296.7 351.0 L298.0 351.1 L299.4 351.1 L300.7 351.1 L302.1 351.2 L302.3 351.2M305.7 351.3 L306.1 351.3 L306.8 351.4 L306.9 351.4M310.1 351.5 L310.8 351.5 L311.4 351.5 L312.1 351.6 L312.8 351.6 L313.5 351.6 L314.1 351.6 L314.8 351.7 L315.5 351.7 L316.1 351.7 L316.6 351.8M320.0 351.9 L320.2 351.9 L320.8 352.0 L321.2 352.0M324.4 352.1 L324.8 352.1 L325.5 352.2 L326.1 352.2" stroke="#9a18b4" stroke-width="1.40"/>
<path d="M74.9 85.0 L75.6 86.0 L75.6 86.0M76.3 87.0 L76.9 88.0 L76.9 88.0M77.6 89.0 L78.2 90.0M78.9 91.0 L78.9 91.1 L79.5 92.1M80.1 93.1 L80.3 93.3 L80.8 94.1M81.4 95.1 L81.6 95.5 L82.0 96.2M82.6 97.2 L82.9 97.9 L83.2 98.3M83.7 99.3 L84.3 100.3 L84.3 100.4M84.9 101.4 L85.0 101.5 L85.5 102.4M86.2 103.4 L86.3 103.6 L86.9 104.4M87.5 105.5 L87.6 105.8 L88.0 106.5M88.4 107.7 L88.8 108.8M89.1 110.0 L89.4 111.1M89.7 112.3 L89.9 113.5M90.2 114.6 L90.3 115.2 L90.5 115.8M90.8 117.0 L91.0 117.6 L91.2 118.1M91.6 119.2 L91.7 119.5 L92.0 120.4M92.4 121.5 L92.8 122.6M93.2 123.8 L93.5 124.9M93.8 126.1 L94.1 127.2M94.3 128.4 L94.6 129.6M94.8 130.8 L95.0 131.5 L95.1 131.9M95.3 133.1 L95.6 134.3M95.8 135.5 L96.1 136.6M96.3 137.8 L96.3 138.0 L96.6 139.0M96.8 140.1 L97.0 141.0 L97.1 141.3M97.4 142.5 L97.7 143.6M98.0 144.8 L98.3 146.0M98.6 147.1 L98.9 148.3M99.2 149.4 L99.5 150.6M99.9 151.7 L100.2 152.9M100.5 154.1 L100.7 155.3M100.8 156.4 L101.0 157.6M101.2 158.8 L101.4 160.0M101.6 161.2 L101.7 162.1 L101.8 162.4M101.9 163.6 L102.1 164.7M102.3 165.9 L102.4 166.3 L102.5 167.1M102.7 168.3 L102.9 169.5M103.1 170.7 L103.3 171.9M103.5 173.0 L103.7 174.2M103.8 175.4 L104.0 176.6M104.2 177.8 L104.4 178.6 L104.4 179.0M104.6 180.1 L104.8 181.3M105.0 182.5 L105.1 182.6 L105.2 183.7M105.4 184.9 L105.6 186.1M105.9 187.2 L106.1 188.4M106.3 189.6 L106.4 190.3 L106.5 190.8M106.7 192.0 L106.9 193.1M107.1 194.3 L107.3 195.5M107.6 196.7 L107.7 197.6 L107.8 197.9M108.0 199.0 L108.2 200.2M108.4 201.4 L108.7 202.6M108.9 203.8 L109.1 204.7 L109.1 204.9M109.4 206.1 L109.6 207.3M109.8 208.5 L110.1 209.6M110.3 210.8 L110.4 211.3 L110.6 212.0M110.8 213.2 L111.0 214.3M111.3 215.5 L111.5 216.7M111.8 217.9 L112.0 219.0M112.3 220.2 L112.4 220.8 L112.6 221.4M112.8 222.5 L113.1 223.7M113.4 224.9 L113.6 226.1M113.9 227.2 L114.2 228.4M114.4 229.6 L114.7 230.7M115.0 231.9 L115.1 232.3 L115.3 233.1M115.6 234.2 L115.8 235.0 L115.9 235.4M116.2 236.6 L116.4 237.6 L116.5 237.7M116.8 238.9 L117.1 240.0M117.4 241.2 L117.7 242.4M118.0 243.5 L118.3 244.7M118.7 245.8 L119.0 247.0M119.3 248.1 L119.7 249.3M120.0 250.4 L120.3 251.6M120.7 252.7 L121.0 253.9M121.4 255.0 L121.8 256.2M122.1 257.3 L122.5 258.4 L122.5 258.5M122.9 259.6 L123.1 260.4 L123.2 260.7M123.6 261.9 L123.8 262.4 L124.0 263.0M124.4 264.1 L124.5 264.3 L124.8 265.3M125.2 266.4 L125.6 267.5M126.1 268.6 L126.5 269.8M126.9 270.9 L127.2 271.5 L127.4 272.0M127.8 273.1 L127.8 273.2 L128.2 274.2M128.7 275.3 L129.2 276.5M129.6 277.6 L129.8 278.0 L130.1 278.7M130.6 279.8 L131.1 280.8M131.6 281.9 L131.9 282.5 L132.1 283.0M132.6 284.1 L133.1 285.2M133.7 286.3 L133.9 286.6 L134.2 287.3M134.8 288.4 L135.2 289.2 L135.3 289.5M135.9 290.5 L136.5 291.6M137.1 292.6 L137.2 292.9 L137.7 293.7M138.3 294.7 L138.6 295.2 L138.9 295.7M139.5 296.7 L139.9 297.3 L140.2 297.8M140.8 298.8 L141.2 299.4 L141.5 299.8M142.1 300.8 L142.6 301.4 L142.8 301.7M143.5 302.7 L143.9 303.3 L144.2 303.7M144.9 304.7 L145.3 305.1 L145.7 305.6M146.4 306.6 L146.6 306.8 L147.2 307.5M147.9 308.4 L147.9 308.5 L148.6 309.2 L148.7 309.3M149.5 310.2 L150.0 310.8 L150.3 311.1M151.1 312.0 L151.3 312.2 L151.9 312.9M152.7 313.8 L153.3 314.3 L153.6 314.6M154.5 315.5 L154.6 315.6 L155.3 316.3 L155.3 316.3M156.2 317.1 L156.7 317.5 L157.1 317.9M158.0 318.7 L158.0 318.7 L158.7 319.3 L158.9 319.5M159.8 320.3 L160.0 320.4 L160.7 321.0 L160.7 321.0M161.7 321.8 L162.0 322.0 L162.6 322.5M163.6 323.2 L164.0 323.5 L164.6 323.9M165.5 324.6 L166.0 325.0 L166.5 325.3M167.5 326.0 L168.0 326.3 L168.5 326.6M169.5 327.3 L170.1 327.6 L170.5 327.9M171.6 328.5 L172.1 328.8 L172.6 329.1M173.7 329.7 L174.1 330.0 L174.7 330.3M175.8 330.9 L176.1 331.0 L176.8 331.4 L176.8 331.4M177.9 332.0 L178.1 332.1 L178.8 332.4 L179.0 332.5M180.1 333.0 L180.1 333.0 L180.8 333.3 L181.2 333.5M182.3 334.0 L182.8 334.2 L183.4 334.5M184.5 334.9 L184.8 335.1 L185.5 335.3 L185.6 335.4M186.7 335.8 L186.8 335.9 L187.5 336.1 L187.8 336.3M188.9 336.7 L189.5 336.9 L190.1 337.1M191.2 337.5 L191.5 337.6 L192.2 337.8 L192.3 337.9M193.5 338.3 L193.5 338.3 L194.2 338.5 L194.6 338.6M195.8 339.0 L196.2 339.1 L196.9 339.3 L196.9 339.3M198.1 339.7 L198.2 339.7 L198.9 339.9 L199.2 340.0M200.4 340.3 L200.9 340.5 L201.5 340.6M202.7 340.9 L202.9 341.0 L203.6 341.1 L203.9 341.2M205.0 341.5 L205.6 341.6 L206.2 341.8M207.4 342.0 L207.6 342.1 L208.2 342.2 L208.5 342.3M209.7 342.5 L210.3 342.7 L210.9 342.8M212.1 343.0 L212.3 343.1 L212.9 343.2 L213.2 343.3M214.4 343.5 L215.0 343.6 L215.6 343.7M216.8 343.9 L217.0 343.9 L217.6 344.1 L218.0 344.1M219.1 344.3 L219.6 344.4 L220.3 344.5 L220.3 344.5M221.5 344.7 L221.7 344.7 L222.3 344.9 L222.7 344.9M223.9 345.1 L224.3 345.2 L225.0 345.3 L225.1 345.3M226.2 345.5 L226.3 345.5 L227.0 345.6 L227.4 345.6M228.6 345.8 L229.0 345.9 L229.7 346.0 L229.8 346.0M231.0 346.2 L231.0 346.2 L231.7 346.2 L232.2 346.3M233.4 346.5 L233.7 346.5 L234.4 346.6 L234.6 346.6M235.8 346.8 L236.4 346.9 L236.9 346.9M238.1 347.1 L238.4 347.1 L239.1 347.2 L239.3 347.2M240.5 347.4 L241.1 347.5 L241.7 347.6M242.9 347.8 L243.1 347.8 L243.8 348.0 L244.1 348.0M245.2 348.2 L245.8 348.3 L246.4 348.4M247.6 348.6 L247.8 348.6 L248.5 348.7 L248.8 348.8M250.0 348.9 L250.5 349.0 L251.1 349.1 L251.2 349.1M252.4 349.3 L252.5 349.3 L253.1 349.3 L253.6 349.4M254.8 349.5 L255.2 349.5 L255.8 349.6 L256.0 349.6M257.1 349.6 L257.2 349.6 L257.8 349.7 L258.3 349.7M259.5 349.8 L259.8 349.9 L260.5 349.9 L260.7 349.9M261.9 350.0 L262.5 350.1 L263.1 350.1M264.3 350.2 L264.5 350.2 L265.2 350.2 L265.5 350.2M266.7 350.3 L267.2 350.3 L267.9 350.3 L267.9 350.3M269.1 350.4 L269.2 350.4 L269.9 350.4 L270.3 350.4M271.5 350.5 L271.9 350.5 L272.6 350.5 L272.7 350.5M273.9 350.5 L274.6 350.6 L275.1 350.6M276.3 350.6 L276.6 350.6 L277.3 350.6 L277.5 350.6M278.7 350.7 L279.3 350.7 L279.9 350.7M281.1 350.7 L281.3 350.7 L282.0 350.7 L282.3 350.7M283.5 350.7 L284.0 350.7 L284.6 350.8 L284.7 350.8M285.9 350.8 L286.0 350.8 L286.7 350.8 L287.1 350.8M288.3 350.8 L288.7 350.8 L289.3 350.9 L289.5 350.9M290.7 350.9 L291.3 350.9 L291.9 350.9M293.1 351.0 L293.4 351.0 L294.0 351.0 L294.3 351.0M295.5 351.1 L296.0 351.1 L296.7 351.2 L296.7 351.2M297.9 351.2 L298.0 351.3 L298.7 351.3 L299.1 351.3M300.3 351.4 L300.7 351.4 L301.4 351.4 L301.5 351.4M302.7 351.5 L302.7 351.5 L303.4 351.5 L303.9 351.5M305.1 351.6 L305.4 351.6 L306.1 351.6 L306.3 351.6M307.5 351.7 L308.1 351.7 L308.7 351.8M309.9 351.8 L310.1 351.8 L310.8 351.9 L311.1 351.9M312.3 351.9 L312.8 352.0 L313.5 352.0 L313.5 352.0M314.7 352.1 L314.8 352.1 L315.5 352.1 L315.9 352.1M317.1 352.2 L317.5 352.2 L317.5 352.2" stroke="#0a8a0a" stroke-width="1.60"/>
<path d="M74.9 20.2 L76.2 21.0 L77.6 23.1 L78.9 26.5 L80.3 31.0 L81.6 36.6 L82.8 42.5M84.3 50.6 L85.0 54.5 L85.6 58.7 L86.3 62.9 L87.0 67.3 L87.6 71.9 L88.3 76.5 L89.0 81.1 L89.5 84.8M90.7 93.5 L91.0 95.4 L91.7 100.2 L92.3 105.0 L93.0 109.8 L93.7 114.5 L94.3 119.3 L95.0 124.0 L95.6 128.4M96.9 137.0 L97.0 137.9 L97.7 142.5 L98.4 147.0 L99.0 151.4 L99.7 155.8 L100.4 160.1 L101.0 164.3 L101.7 168.5 L102.1 171.1M103.5 179.4 L103.7 180.6 L104.4 184.5 L105.1 188.3 L105.7 192.1 L106.4 195.8 L107.1 199.4 L107.7 202.9 L108.4 206.3 L109.1 209.6 L109.5 211.5M111.1 219.2 L111.8 222.3 L113.1 228.1 L114.4 233.7 L115.8 238.9 L117.1 244.0 L118.1 247.5M120.0 254.0 L121.1 257.5 L122.5 261.6 L123.8 265.4 L125.2 269.1 L126.5 272.6 L127.8 275.9 L128.2 276.8M130.4 281.7 L131.2 283.5 L132.5 286.2 L133.9 288.9 L135.2 291.4 L136.5 293.7 L137.9 296.0 L139.2 298.2 L139.5 298.5M141.8 302.0 L142.6 303.1 L143.9 304.9 L145.3 306.7 L146.6 308.3 L147.9 309.9 L149.3 311.4 L150.6 312.9 L151.4 313.6M153.8 316.0 L154.6 316.8 L156.0 318.1 L157.3 319.3 L158.7 320.4 L160.0 321.5 L161.3 322.6 L162.7 323.6 L163.6 324.2M166.0 326.0 L167.4 326.8 L168.7 327.7 L170.1 328.5 L171.4 329.3 L172.7 330.0 L174.1 330.8 L175.4 331.5 L175.9 331.7M178.4 332.9 L179.4 333.4 L180.8 334.0 L182.1 334.6 L183.5 335.1 L184.8 335.7 L186.1 336.2 L187.5 336.7 L188.4 337.0M190.9 337.9 L192.2 338.3 L193.5 338.8 L194.8 339.2 L196.2 339.6 L197.5 340.0 L198.9 340.3 L200.2 340.7 L200.8 340.9M203.3 341.5 L204.2 341.7 L205.6 342.0 L206.9 342.3 L208.2 342.6 L209.6 342.9 L210.9 343.2 L212.3 343.5 L213.3 343.7M215.8 344.1 L217.0 344.4 L218.3 344.6 L219.6 344.8 L221.0 345.0 L222.3 345.2 L223.7 345.5 L225.0 345.7 L225.8 345.8M228.3 346.1 L229.0 346.2 L230.4 346.4 L231.7 346.6 L233.0 346.7 L234.4 346.9 L235.7 347.1 L237.1 347.2 L238.3 347.4M240.8 347.6 L241.8 347.7 L243.1 347.9 L244.4 348.0 L245.8 348.1 L247.1 348.2 L248.5 348.4 L249.8 348.5 L250.8 348.6M253.3 348.8 L254.5 348.9 L255.8 349.0 L257.2 349.1 L258.5 349.2 L259.8 349.3 L261.2 349.4 L262.5 349.4 L263.3 349.5M265.8 349.7 L266.5 349.7 L267.9 349.8 L269.2 349.9 L270.6 349.9 L271.9 350.0 L273.2 350.1 L274.6 350.2 L275.8 350.2M278.3 350.3 L279.3 350.4 L280.6 350.5 L282.0 350.5 L283.3 350.6 L284.6 350.6 L286.0 350.7 L287.3 350.7 L288.3 350.8M290.8 350.9 L292.0 350.9 L293.4 351.0 L294.7 351.0 L296.0 351.1 L297.4 351.1 L298.7 351.2 L300.1 351.2 L300.8 351.2M303.3 351.3 L304.1 351.3 L305.4 351.4 L306.8 351.4 L308.1 351.4 L309.4 351.5 L310.8 351.5 L312.1 351.5 L313.3 351.6M315.8 351.6 L316.8 351.7 L318.1 351.7 L319.5 351.7 L320.8 351.8 L322.2 351.8 L323.5 351.8 L324.8 351.8 L325.8 351.9M328.3 351.9 L329.5 351.9 L330.9 352.0 L332.2 352.0 L333.6 352.0 L334.9 352.0 L336.2 352.0 L337.6 352.1 L338.3 352.1M340.8 352.1 L340.9 352.1 L341.6 352.1 L342.3 352.1 L342.9 352.1 L343.6 352.2 L344.3 352.2 L345.0 352.2 L345.6 352.2 L346.3 352.2 L346.9 352.2" stroke="#ff0000" stroke-width="1.15"/>
<path d="M74.90 22.43 L75.57 22.60 L76.24 23.08 L76.91 23.89 L77.58 25.02 L78.25 26.46 L78.92 28.19 L79.59 30.23 L80.26 32.54 L80.93 35.13 L81.60 37.97 L82.27 41.05 L82.94 44.36 L83.61 47.88 L84.28 51.60 L84.95 55.49 L85.62 59.55 L86.29 63.75 L86.96 68.08 L87.63 72.53 L88.30 77.07 L88.97 81.68 L89.64 86.34 L90.31 91.04 L90.98 95.77 L91.65 100.51 L92.32 105.25 L92.99 110.00 L93.66 114.73 L94.33 119.44 L95.00 124.13 L95.67 128.79 L96.34 133.41 L97.01 137.98 L97.68 142.51 L98.35 146.99 L99.02 151.41 L99.69 155.78 L100.36 160.08 L101.03 164.32 L101.70 168.49 L102.37 172.60 L103.04 176.64 L103.71 180.61 L104.38 184.51 L105.05 188.34 L105.72 192.10 L106.39 195.77 L107.06 199.36 L107.73 202.87 L108.41 206.30 L109.08 209.65 L109.75 212.92 L110.42 216.10 L111.09 219.22 L111.76 222.25 L112.43 225.21 L113.10 228.10 L113.77 230.91 L114.44 233.66 L115.11 236.33 L115.78 238.94 L116.45 241.48 L117.12 243.95 L117.79 246.36 L118.46 248.71 L119.13 251.00 L119.80 253.23 L120.47 255.40 L121.14 257.51 L121.81 259.58 L122.48 261.58 L123.15 263.54 L123.82 265.45 L124.49 267.30 L125.16 269.11 L125.83 270.88 L126.50 272.59 L127.17 274.27 L127.84 275.90 L128.51 277.49 L129.18 279.04 L129.85 280.55 L130.52 282.02 L131.19 283.46 L131.86 284.86 L132.53 286.22 L133.20 287.55 L133.87 288.85 L134.54 290.12 L135.21 291.35 L135.88 292.56 L136.55 293.73 L137.22 294.88 L137.89 296.00 L138.56 297.09 L139.23 298.16 L139.90 299.20 L140.57 300.21 L141.24 301.20 L141.91 302.17 L142.58 303.12 L143.25 304.04 L143.92 304.95 L144.59 305.84 L145.26 306.70 L145.93 307.55 L146.60 308.38 L147.27 309.19 L147.94 309.99 L148.61 310.76 L149.28 311.52 L149.95 312.26 L150.62 312.98 L151.29 313.69 L151.96 314.38 L152.63 315.05 L153.30 315.71 L153.97 316.35 L154.64 316.98 L155.31 317.59 L155.98 318.19 L156.65 318.78 L157.32 319.35 L157.99 319.91 L158.66 320.46 L159.33 321.00 L160.00 321.53 L160.67 322.05 L161.34 322.56 L162.01 323.05 L162.68 323.54 L163.35 324.02 L164.02 324.49 L164.69 324.95 L165.36 325.40 L166.03 325.84 L166.70 326.28 L167.37 326.70 L168.04 327.12 L168.71 327.53 L169.38 327.93 L170.05 328.33 L170.72 328.72 L171.39 329.10 L172.06 329.47 L172.73 329.83 L173.40 330.19 L174.07 330.55 L174.74 330.89 L175.41 331.23 L176.09 331.57 L176.76 331.89 L177.43 332.21 L178.10 332.53 L178.77 332.84 L179.44 333.15 L180.11 333.44 L180.78 333.74 L181.45 334.03 L182.12 334.31 L182.79 334.59 L183.46 334.86 L184.13 335.13 L184.80 335.39 L185.47 335.65 L186.14 335.91 L186.81 336.16 L187.48 336.41 L188.15 336.65 L188.82 336.89 L189.49 337.12 L190.16 337.35 L190.83 337.58 L191.50 337.80 L192.17 338.02 L192.84 338.23 L193.51 338.44 L194.18 338.65 L194.85 338.85 L195.52 339.05 L196.19 339.25 L196.86 339.45 L197.53 339.64 L198.20 339.82 L198.87 340.01 L199.54 340.19 L200.21 340.37 L200.88 340.54 L201.55 340.72 L202.22 340.89 L202.89 341.05 L203.56 341.22 L204.23 341.38 L204.90 341.54 L205.57 341.70 L206.24 341.85 L206.91 342.00 L207.58 342.15 L208.25 342.30 L208.92 342.45 L209.59 342.59 L210.26 342.73 L210.93 342.87 L211.60 343.00 L212.27 343.14 L212.94 343.27 L213.61 343.40 L214.28 343.52 L214.95 343.65 L215.62 343.77 L216.29 343.90 L216.96 344.02 L217.63 344.13 L218.30 344.25 L218.97 344.36 L219.64 344.48 L220.31 344.59 L220.98 344.70 L221.65 344.81 L222.32 344.91 L222.99 345.02 L223.66 345.12 L224.33 345.22 L225.00 345.32 L225.67 345.42 L226.34 345.52 L227.01 345.61 L227.68 345.71 L228.35 345.80 L229.02 345.89 L229.69 345.98 L230.36 346.07 L231.03 346.15 L231.70 346.24 L232.37 346.33 L233.04 346.41 L233.71 346.49 L234.38 346.57 L235.05 346.65 L235.72 346.73 L236.39 346.81 L237.06 346.89 L237.73 346.96 L238.40 347.03 L239.07 347.11 L239.74 347.18 L240.41 347.25 L241.08 347.32 L241.75 347.39 L242.42 347.46 L243.10 347.53 L243.77 347.59 L244.44 347.66 L245.11 347.72 L245.78 347.78 L246.45 347.85 L247.12 347.91 L247.79 347.97 L248.46 348.03 L249.13 348.09 L249.80 348.15 L250.47 348.20 L251.14 348.26 L251.81 348.32 L252.48 348.37 L253.15 348.43 L253.82 348.48 L254.49 348.53 L255.16 348.58 L255.83 348.64 L256.50 348.69 L257.17 348.74 L257.84 348.79 L258.51 348.83 L259.18 348.88 L259.85 348.93 L260.52 348.98 L261.19 349.02 L261.86 349.07 L262.53 349.11 L263.20 349.16 L263.87 349.20 L264.54 349.24 L265.21 349.28 L265.88 349.33 L266.55 349.37 L267.22 349.41 L267.89 349.45 L268.56 349.49 L269.23 349.53 L269.90 349.56 L270.57 349.60 L271.24 349.64 L271.91 349.68 L272.58 349.71 L273.25 349.75 L273.92 349.78 L274.59 349.82 L275.26 349.85 L275.93 349.89 L276.60 349.92 L277.27 349.96 L277.94 349.99 L278.61 350.02 L279.28 350.05 L279.95 350.08 L280.62 350.11 L281.29 350.15 L281.96 350.18 L282.63 350.21 L283.30 350.23 L283.97 350.26 L284.64 350.29 L285.31 350.32 L285.98 350.35 L286.65 350.38 L287.32 350.40 L287.99 350.43 L288.66 350.46 L289.33 350.48 L290.00 350.51 L290.67 350.53 L291.34 350.56 L292.01 350.58 L292.68 350.61 L293.35 350.63 L294.02 350.66 L294.69 350.68 L295.36 350.70 L296.03 350.73 L296.70 350.75 L297.37 350.77 L298.04 350.79 L298.71 350.81 L299.38 350.84 L300.05 350.86 L300.72 350.88 L301.39 350.90 L302.06 350.92 L302.73 350.94 L303.40 350.96 L304.07 350.98 L304.74 351.00 L305.41 351.02 L306.08 351.04 L306.75 351.06 L307.42 351.07 L308.09 351.09 L308.76 351.11 L309.43 351.13 L310.11 351.15 L310.78 351.16 L311.45 351.18 L312.12 351.20 L312.79 351.21 L313.46 351.23 L314.13 351.25 L314.80 351.26 L315.47 351.28 L316.14 351.29 L316.81 351.31 L317.48 351.32 L318.15 351.34 L318.82 351.35 L319.49 351.37 L320.16 351.38 L320.83 351.40 L321.50 351.41 L322.17 351.43 L322.84 351.44 L323.51 351.45 L324.18 351.47 L324.85 351.48 L325.52 351.49 L326.19 351.51 L326.86 351.52 L327.53 351.53 L328.20 351.54 L328.87 351.56 L329.54 351.57 L330.21 351.58 L330.88 351.59 L331.55 351.60 L332.22 351.61 L332.89 351.63 L333.56 351.64 L334.23 351.65 L334.90 351.66 L335.57 351.67 L336.24 351.68 L336.91 351.69 L337.58 351.70 L338.25 351.71 L338.92 351.72 L339.59 351.73 L340.26 351.74 L340.93 351.75 L341.60 351.76 L342.27 351.77 L342.94 351.78 L343.61 351.79 L344.28 351.80 L344.95 351.81 L345.62 351.82 L346.29 351.83 L346.96 351.83 L347.63 351.84 L348.30 351.85 L348.97 351.86 L349.64 351.87 L350.31 351.88 L350.98 351.89 L351.65 351.89 L352.32 351.90 L352.99 351.91 L353.66 351.92 L354.33 351.92 L355.00 351.93 L355.67 351.94 L356.34 351.95 L357.01 351.95 L357.68 351.96 L358.35 351.97 L359.02 351.98 L359.69 351.98 L360.36 351.99 L361.03 352.00 L361.70 352.00 L362.37 352.01 L363.04 352.02 L363.71 352.02 L364.38 352.03 L365.05 352.03 L365.72 352.04 L366.39 352.05 L367.06 352.05 L367.73 352.06 L368.40 352.06 L369.07 352.07 L369.74 352.08 L370.41 352.08 L371.08 352.09 L371.75 352.09 L372.42 352.10 L373.09 352.10 L373.76 352.11 L374.43 352.11 L375.10 352.12 L375.77 352.12 L376.44 352.13 L377.12 352.13 L377.79 352.14 L378.46 352.14 L379.13 352.15 L379.80 352.15 L380.47 352.16 L381.14 352.16 L381.81 352.17 L382.48 352.17 L383.15 352.18 L383.82 352.18 L384.49 352.19 L385.16 352.19 L385.83 352.19 L386.50 352.20 L386.73 352.20" stroke="#000000" stroke-width="1.20"/>
</g>
<rect x="74.90" y="4.90" width="335.05" height="347.30" fill="none" stroke="#000" stroke-width="1.45"/>
<line x1="74.90" y1="352.20" x2="74.90" y2="348.20" stroke="#000" stroke-width="1.25"/>
<line x1="74.90" y1="4.90" x2="74.90" y2="8.90" stroke="#000" stroke-width="1.25"/>
<line x1="88.30" y1="352.20" x2="88.30" y2="350.20" stroke="#000" stroke-width="1.25"/>
<line x1="88.30" y1="4.90" x2="88.30" y2="6.90" stroke="#000" stroke-width="1.25"/>
<line x1="101.70" y1="352.20" x2="101.70" y2="350.20" stroke="#000" stroke-width="1.25"/>
<line x1="101.70" y1="4.90" x2="101.70" y2="6.90" stroke="#000" stroke-width="1.25"/>
<line x1="115.11" y1="352.20" x2="115.11" y2="350.20" stroke="#000" stroke-width="1.25"/>
<line x1="115.11" y1="4.90" x2="115.11" y2="6.90" stroke="#000" stroke-width="1.25"/>
<line x1="128.51" y1="352.20" x2="128.51" y2="350.20" stroke="#000" stroke-width="1.25"/>
<line x1="128.51" y1="4.90" x2="128.51" y2="6.90" stroke="#000" stroke-width="1.25"/>
<line x1="141.91" y1="352.20" x2="141.91" y2="348.20" stroke="#000" stroke-width="1.25"/>
<line x1="141.91" y1="4.90" x2="141.91" y2="8.90" stroke="#000" stroke-width="1.25"/>
<line x1="155.31" y1="352.20" x2="155.31" y2="350.20" stroke="#000" stroke-width="1.25"/>
<line x1="155.31" y1="4.90" x2="155.31" y2="6.90" stroke="#000" stroke-width="1.25"/>
<line x1="168.71" y1="352.20" x2="168.71" y2="350.20" stroke="#000" stroke-width="1.25"/>
<line x1="168.71" y1="4.90" x2="168.71" y2="6.90" stroke="#000" stroke-width="1.25"/>
<line x1="182.12" y1="352.20" x2="182.12" y2="350.20" stroke="#000" stroke-width="1.25"/>
<line x1="182.12" y1="4.90" x2="182.12" y2="6.90" stroke="#000" stroke-width="1.25"/>
<line x1="195.52" y1="352.20" x2="195.52" y2="350.20" stroke="#000" stroke-width="1.25"/>
<line x1="195.52" y1="4.90" x2="195.52" y2="6.90" stroke="#000" stroke-width="1.25"/>
<line x1="208.92" y1="352.20" x2="208.92" y2="348.20" stroke="#000" stroke-width="1.25"/>
<line x1="208.92" y1="4.90" x2="208.92" y2="8.90" stroke="#000" stroke-width="1.25"/>
<line x1="222.32" y1="352.20" x2="222.32" y2="350.20" stroke="#000" stroke-width="1.25"/>
<line x1="222.32" y1="4.90" x2="222.32" y2="6.90" stroke="#000" stroke-width="1.25"/>
<line x1="235.72" y1="352.20" x2="235.72" y2="350.20" stroke="#000" stroke-width="1.25"/>
<line x1="235.72" y1="4.90" x2="235.72" y2="6.90" stroke="#000" stroke-width="1.25"/>
<line x1="249.13" y1="352.20" x2="249.13" y2="350.20" stroke="#000" stroke-width="1.25"/>
<line x1="249.13" y1="4.90" x2="249.13" y2="6.90" stroke="#000" stroke-width="1.25"/>
<line x1="262.53" y1="352.20" x2="262.53" y2="350.20" stroke="#000" stroke-width="1.25"/>
<line x1="262.53" y1="4.90" x2="262.53" y2="6.90" stroke="#000" stroke-width="1.25"/>
<line x1="275.93" y1="352.20" x2="275.93" y2="348.20" stroke="#000" stroke-width="1.25"/>
<line x1="275.93" y1="4.90" x2="275.93" y2="8.90" stroke="#000" stroke-width="1.25"/>
<line x1="289.33" y1="352.20" x2="289.33" y2="350.20" stroke="#000" stroke-width="1.25"/>
<line x1="289.33" y1="4.90" x2="289.33" y2="6.90" stroke="#000" stroke-width="1.25"/>
<line x1="302.73" y1="352.20" x2="302.73" y2="350.20" stroke="#000" stroke-width="1.25"/>
<line x1="302.73" y1="4.90" x2="302.73" y2="6.90" stroke="#000" stroke-width="1.25"/>
<line x1="316.14" y1="352.20" x2="316.14" y2="350.20" stroke="#000" stroke-width="1.25"/>
<line x1="316.14" y1="4.90" x2="316.14" y2="6.90" stroke="#000" stroke-width="1.25"/>
<line x1="329.54" y1="352.20" x2="329.54" y2="350.20" stroke="#000" stroke-width="1.25"/>
<line x1="329.54" y1="4.90" x2="329.54" y2="6.90" stroke="#000" stroke-width="1.25"/>
<line x1="342.94" y1="352.20" x2="342.94" y2="348.20" stroke="#000" stroke-width="1.25"/>
<line x1="342.94" y1="4.90" x2="342.94" y2="8.90" stroke="#000" stroke-width="1.25"/>
<line x1="356.34" y1="352.20" x2="356.34" y2="350.20" stroke="#000" stroke-width="1.25"/>
<line x1="356.34" y1="4.90" x2="356.34" y2="6.90" stroke="#000" stroke-width="1.25"/>
<line x1="369.74" y1="352.20" x2="369.74" y2="350.20" stroke="#000" stroke-width="1.25"/>
<line x1="369.74" y1="4.90" x2="369.74" y2="6.90" stroke="#000" stroke-width="1.25"/>
<line x1="383.15" y1="352.20" x2="383.15" y2="350.20" stroke="#000" stroke-width="1.25"/>
<line x1="383.15" y1="4.90" x2="383.15" y2="6.90" stroke="#000" stroke-width="1.25"/>
<line x1="396.55" y1="352.20" x2="396.55" y2="350.20" stroke="#000" stroke-width="1.25"/>
<line x1="396.55" y1="4.90" x2="396.55" y2="6.90" stroke="#000" stroke-width="1.25"/>
<line x1="409.95" y1="352.20" x2="409.95" y2="348.20" stroke="#000" stroke-width="1.25"/>
<line x1="409.95" y1="4.90" x2="409.95" y2="8.90" stroke="#000" stroke-width="1.25"/>
<line x1="74.90" y1="352.20" x2="78.90" y2="352.20" stroke="#000" stroke-width="1.25"/>
<line x1="409.95" y1="352.20" x2="405.95" y2="352.20" stroke="#000" stroke-width="1.25"/>
<line x1="74.90" y1="339.80" x2="76.90" y2="339.80" stroke="#000" stroke-width="1.25"/>
<line x1="409.95" y1="339.80" x2="407.95" y2="339.80" stroke="#000" stroke-width="1.25"/>
<line x1="74.90" y1="327.41" x2="76.90" y2="327.41" stroke="#000" stroke-width="1.25"/>
<line x1="409.95" y1="327.41" x2="407.95" y2="327.41" stroke="#000" stroke-width="1.25"/>
<line x1="74.90" y1="315.01" x2="76.90" y2="315.01" stroke="#000" stroke-width="1.25"/>
<line x1="409.95" y1="315.01" x2="407.95" y2="315.01" stroke="#000" stroke-width="1.25"/>
<line x1="74.90" y1="302.61" x2="76.90" y2="302.61" stroke="#000" stroke-width="1.25"/>
<line x1="409.95" y1="302.61" x2="407.95" y2="302.61" stroke="#000" stroke-width="1.25"/>
<line x1="74.90" y1="290.21" x2="78.90" y2="290.21" stroke="#000" stroke-width="1.25"/>
<line x1="409.95" y1="290.21" x2="405.95" y2="290.21" stroke="#000" stroke-width="1.25"/>
<line x1="74.90" y1="277.82" x2="76.90" y2="277.82" stroke="#000" stroke-width="1.25"/>
<line x1="409.95" y1="277.82" x2="407.95" y2="277.82" stroke="#000" stroke-width="1.25"/>
<line x1="74.90" y1="265.42" x2="76.90" y2="265.42" stroke="#000" stroke-width="1.25"/>
<line x1="409.95" y1="265.42" x2="407.95" y2="265.42" stroke="#000" stroke-width="1.25"/>
<line x1="74.90" y1="253.02" x2="76.90" y2="253.02" stroke="#000" stroke-width="1.25"/>
<line x1="409.95" y1="253.02" x2="407.95" y2="253.02" stroke="#000" stroke-width="1.25"/>
<line x1="74.90" y1="240.63" x2="76.90" y2="240.63" stroke="#000" stroke-width="1.25"/>
<line x1="409.95" y1="240.63" x2="407.95" y2="240.63" stroke="#000" stroke-width="1.25"/>
<line x1="74.90" y1="228.23" x2="78.90" y2="228.23" stroke="#000" stroke-width="1.25"/>
<line x1="409.95" y1="228.23" x2="405.95" y2="228.23" stroke="#000" stroke-width="1.25"/>
<line x1="74.90" y1="215.83" x2="76.90" y2="215.83" stroke="#000" stroke-width="1.25"/>
<line x1="409.95" y1="215.83" x2="407.95" y2="215.83" stroke="#000" stroke-width="1.25"/>
<line x1="74.90" y1="203.43" x2="76.90" y2="203.43" stroke="#000" stroke-width="1.25"/>
<line x1="409.95" y1="203.43" x2="407.95" y2="203.43" stroke="#000" stroke-width="1.25"/>
<line x1="74.90" y1="191.04" x2="76.90" y2="191.04" stroke="#000" stroke-width="1.25"/>
<line x1="409.95" y1="191.04" x2="407.95" y2="191.04" stroke="#000" stroke-width="1.25"/>
<line x1="74.90" y1="178.64" x2="76.90" y2="178.64" stroke="#000" stroke-width="1.25"/>
<line x1="409.95" y1="178.64" x2="407.95" y2="178.64" stroke="#000" stroke-width="1.25"/>
<line x1="74.90" y1="166.24" x2="78.90" y2="166.24" stroke="#000" stroke-width="1.25"/>
<line x1="409.95" y1="166.24" x2="405.95" y2="166.24" stroke="#000" stroke-width="1.25"/>
<line x1="74.90" y1="153.84" x2="76.90" y2="153.84" stroke="#000" stroke-width="1.25"/>
<line x1="409.95" y1="153.84" x2="407.95" y2="153.84" stroke="#000" stroke-width="1.25"/>
<line x1="74.90" y1="141.45" x2="76.90" y2="141.45" stroke="#000" stroke-width="1.25"/>
<line x1="409.95" y1="141.45" x2="407.95" y2="141.45" stroke="#000" stroke-width="1.25"/>
<line x1="74.90" y1="129.05" x2="76.90" y2="129.05" stroke="#000" stroke-width="1.25"/>
<line x1="409.95" y1="129.05" x2="407.95" y2="129.05" stroke="#000" stroke-width="1.25"/>
<line x1="74.90" y1="116.65" x2="76.90" y2="116.65" stroke="#000" stroke-width="1.25"/>
<line x1="409.95" y1="116.65" x2="407.95" y2="116.65" stroke="#000" stroke-width="1.25"/>
<line x1="74.90" y1="104.26" x2="78.90" y2="104.26" stroke="#000" stroke-width="1.25"/>
<line x1="409.95" y1="104.26" x2="405.95" y2="104.26" stroke="#000" stroke-width="1.25"/>
<line x1="74.90" y1="91.86" x2="76.90" y2="91.86" stroke="#000" stroke-width="1.25"/>
<line x1="409.95" y1="91.86" x2="407.95" y2="91.86" stroke="#000" stroke-width="1.25"/>
<line x1="74.90" y1="79.46" x2="76.90" y2="79.46" stroke="#000" stroke-width="1.25"/>
<line x1="409.95" y1="79.46" x2="407.95" y2="79.46" stroke="#000" stroke-width="1.25"/>
<line x1="74.90" y1="67.06" x2="76.90" y2="67.06" stroke="#000" stroke-width="1.25"/>
<line x1="409.95" y1="67.06" x2="407.95" y2="67.06" stroke="#000" stroke-width="1.25"/>
<line x1="74.90" y1="54.67" x2="76.90" y2="54.67" stroke="#000" stroke-width="1.25"/>
<line x1="409.95" y1="54.67" x2="407.95" y2="54.67" stroke="#000" stroke-width="1.25"/>
<line x1="74.90" y1="42.27" x2="78.90" y2="42.27" stroke="#000" stroke-width="1.25"/>
<line x1="409.95" y1="42.27" x2="405.95" y2="42.27" stroke="#000" stroke-width="1.25"/>
<line x1="74.90" y1="29.87" x2="76.90" y2="29.87" stroke="#000" stroke-width="1.25"/>
<line x1="409.95" y1="29.87" x2="407.95" y2="29.87" stroke="#000" stroke-width="1.25"/>
<line x1="74.90" y1="17.48" x2="76.90" y2="17.48" stroke="#000" stroke-width="1.25"/>
<line x1="409.95" y1="17.48" x2="407.95" y2="17.48" stroke="#000" stroke-width="1.25"/>
<rect x="207.50" y="93.20" width="184.50" height="212.55" fill="#fff" stroke="none"/>
<g clip-path="url(#ci)" fill="none" stroke-linejoin="round">
<path d="M226.26 82.29 L226.56 84.30 L226.87 86.29 L227.18 88.27 L227.49 90.24 L227.79 92.19 L228.10 94.13 L228.41 96.05 L228.72 97.96 L229.03 99.86 L229.33 101.74 L229.64 103.61 L229.95 105.47 L230.25 107.31 L230.56 109.14 L230.87 110.96 L231.18 112.77 L231.49 114.56 L231.79 116.34 L232.10 118.10 L232.41 119.86 L232.72 121.60 L233.02 123.33 L233.33 125.05 L233.64 126.76 L233.94 128.45 L234.25 130.14 L234.56 131.81 L234.87 133.47 L235.18 135.11 L235.48 136.75 L235.79 138.38 L236.10 139.99 L236.41 141.59 L236.71 143.19 L237.02 144.77 L237.33 146.34 L237.63 147.90 L237.94 149.44 L238.25 150.98 L238.56 152.51 L238.87 154.03 L239.17 155.53 L239.48 157.03 L239.79 158.52 L240.09 159.99 L240.40 161.46 L240.71 162.91 L241.02 164.36 L241.32 165.80 L241.63 167.22 L241.94 168.64 L242.25 170.05 L242.56 171.45 L242.86 172.84 L243.17 174.21 L243.48 175.58 L243.78 176.94 L244.09 178.30 L244.40 179.64 L244.71 180.97 L245.01 182.30 L245.32 183.61 L245.63 184.92 L245.94 186.22 L246.25 187.51 L246.55 188.79 L246.86 190.06 L247.17 191.32 L247.47 192.58 L247.78 193.83 L248.09 195.07 L248.40 196.30 L248.70 197.52 L249.01 198.73 L249.32 199.94 L249.63 201.14 L249.94 202.33 L250.24 203.51 L250.55 204.69 L250.86 205.85 L251.16 207.01 L251.47 208.17 L251.78 209.31 L252.09 210.45 L252.39 211.58 L252.70 212.70 L253.01 213.81 L253.32 214.92 L253.62 216.02 L253.93 217.11 L254.24 218.20 L254.55 219.28 L254.85 220.35 L255.16 221.42 L255.47 222.47 L255.78 223.53 L256.08 224.57 L256.39 225.61 L256.70 226.64 L257.01 227.66 L257.31 228.68 L257.62 229.69 L257.93 230.70 L258.24 231.69 L258.55 232.69 L258.85 233.67 L259.16 234.65 L259.47 235.62 L259.77 236.59 L260.08 237.55 L260.39 238.50 L260.70 239.45 L261.00 240.39 L261.31 241.33 L261.62 242.26 L261.93 243.18 L262.24 244.10 L262.54 245.01 L262.85 245.92 L263.16 246.82 L263.46 247.72 L263.77 248.61 L264.08 249.49 L264.39 250.37 L264.69 251.24 L265.00 252.11 L265.31 252.97 L265.62 253.82 L265.93 254.68 L266.23 255.52 L266.54 256.36 L266.85 257.20 L267.15 258.03 L267.46 258.85 L267.77 259.67 L268.08 260.48 L268.38 261.29 L268.69 262.09 L269.00 262.89 L269.31 263.69 L269.62 264.48 L269.92 265.26 L270.23 266.04 L270.54 266.81 L270.85 267.58 L271.15 268.35 L271.46 269.11 L271.77 269.86 L272.07 270.61 L272.38 271.36 L272.69 272.10 L273.00 272.83 L273.31 273.57 L273.61 274.29 L273.92 275.02 L274.23 275.73 L274.53 276.45 L274.84 277.16 L275.15 277.86 L275.46 278.56 L275.76 279.26 L276.07 279.95 L276.38 280.64 L276.69 281.32 L277.00 282.00 L277.30 282.68 L277.61 283.35 L277.92 284.01 L278.23 284.68 L278.53 285.34 L278.84 285.99 L279.15 286.64 L279.45 287.29 L279.76 287.93 L280.07 288.57 L280.38 289.20 L280.69 289.83 L280.99 290.46 L281.30 291.08 L281.61 291.70 L281.91 292.32 L282.22 292.93 L282.53 293.54 L282.84 294.14 L283.14 294.75 L283.45 295.34 L283.76 295.94 L284.07 296.53 L284.38 297.11 L284.68 297.69 L284.99 298.27 L285.30 298.85 L285.61 299.42 L285.91 299.99 L286.22 300.56 L286.53 301.12 L286.83 301.68 L287.14 302.23 L287.45 302.78 L287.76 303.33 L288.06 303.88 L288.37 304.42 L288.68 304.96 L288.99 305.49 L289.30 306.02 L289.60 306.55 L289.91 307.08 L290.22 307.60 L290.52 308.12 L290.83 308.64 L291.14 309.15 L291.45 309.66" stroke="#5c5c5c" stroke-width="0.95"/>
<rect x="224.62" y="77.89" width="2.30" height="2.30" fill="#a8a8a8" stroke="#606060" stroke-width="0.7"/>
<rect x="227.69" y="97.57" width="2.30" height="2.30" fill="#a8a8a8" stroke="#606060" stroke-width="0.7"/>
<rect x="230.77" y="115.90" width="2.30" height="2.30" fill="#a8a8a8" stroke="#606060" stroke-width="0.7"/>
<rect x="233.84" y="132.98" width="2.30" height="2.30" fill="#a8a8a8" stroke="#606060" stroke-width="0.7"/>
<rect x="236.92" y="148.91" width="2.30" height="2.30" fill="#a8a8a8" stroke="#606060" stroke-width="0.7"/>
<rect x="239.99" y="163.79" width="2.30" height="2.30" fill="#a8a8a8" stroke="#606060" stroke-width="0.7"/>
<rect x="243.07" y="177.68" width="2.30" height="2.30" fill="#a8a8a8" stroke="#606060" stroke-width="0.7"/>
<rect x="246.14" y="190.68" width="2.30" height="2.30" fill="#a8a8a8" stroke="#606060" stroke-width="0.7"/>
<rect x="249.22" y="202.83" width="2.30" height="2.30" fill="#a8a8a8" stroke="#606060" stroke-width="0.7"/>
<rect x="252.29" y="214.21" width="2.30" height="2.30" fill="#a8a8a8" stroke="#606060" stroke-width="0.7"/>
<rect x="255.37" y="224.87" width="2.30" height="2.30" fill="#a8a8a8" stroke="#606060" stroke-width="0.7"/>
<rect x="258.44" y="234.86" width="2.30" height="2.30" fill="#a8a8a8" stroke="#606060" stroke-width="0.7"/>
<rect x="261.52" y="244.23" width="2.30" height="2.30" fill="#a8a8a8" stroke="#606060" stroke-width="0.7"/>
<rect x="264.59" y="253.02" width="2.30" height="2.30" fill="#a8a8a8" stroke="#606060" stroke-width="0.7"/>
<rect x="267.67" y="261.26" width="2.30" height="2.30" fill="#a8a8a8" stroke="#606060" stroke-width="0.7"/>
<rect x="270.74" y="269.01" width="2.30" height="2.30" fill="#a8a8a8" stroke="#606060" stroke-width="0.7"/>
<rect x="273.82" y="276.29" width="2.30" height="2.30" fill="#a8a8a8" stroke="#606060" stroke-width="0.7"/>
<rect x="276.89" y="283.13" width="2.30" height="2.30" fill="#a8a8a8" stroke="#606060" stroke-width="0.7"/>
<rect x="279.97" y="289.56" width="2.30" height="2.30" fill="#a8a8a8" stroke="#606060" stroke-width="0.7"/>
<rect x="283.04" y="295.61" width="2.30" height="2.30" fill="#a8a8a8" stroke="#606060" stroke-width="0.7"/>
<rect x="286.12" y="301.30" width="2.30" height="2.30" fill="#a8a8a8" stroke="#606060" stroke-width="0.7"/>
<path d="M229.64 81.76 L229.95 83.52 L230.25 85.26 L230.56 86.99 L230.87 88.70 L231.18 90.41 L231.49 92.10 L231.79 93.78 L232.10 95.45 L232.41 97.11 L232.72 98.76 L233.02 100.39 L233.33 102.02 L233.64 103.63 L233.94 105.23 L234.25 106.82 L234.56 108.40 L234.87 109.97 L235.18 111.53 L235.48 113.08 L235.79 114.61 L236.10 116.14 L236.41 117.66 L236.71 119.16 L237.02 120.66 L237.33 122.14 L237.63 123.62 L237.94 125.08 L238.25 126.54 L238.56 127.98 L238.87 129.42 L239.17 130.84 L239.48 132.26 L239.79 133.67 L240.09 135.07 L240.40 136.45 L240.71 137.83 L241.02 139.20 L241.32 140.56 L241.63 141.91 L241.94 143.26 L242.25 144.59 L242.56 145.91 L242.86 147.23 L243.17 148.54 L243.48 149.84 L243.78 151.13 L244.09 152.41 L244.40 153.68 L244.71 154.94 L245.01 156.20 L245.32 157.45 L245.63 158.69 L245.94 159.92 L246.25 161.14 L246.55 162.36 L246.86 163.57 L247.17 164.77 L247.47 165.96 L247.78 167.14 L248.09 168.32 L248.40 169.49 L248.70 170.65 L249.01 171.80 L249.32 172.95 L249.63 174.09 L249.94 175.22 L250.24 176.34 L250.55 177.46 L250.86 178.57 L251.16 179.67 L251.47 180.77 L251.78 181.86 L252.09 182.94 L252.39 184.01 L252.70 185.08 L253.01 186.14 L253.32 187.19 L253.62 188.24 L253.93 189.28 L254.24 190.32 L254.55 191.34 L254.85 192.36 L255.16 193.38 L255.47 194.39 L255.78 195.39 L256.08 196.38 L256.39 197.37 L256.70 198.36 L257.01 199.33 L257.31 200.30 L257.62 201.27 L257.93 202.23 L258.24 203.18 L258.55 204.13 L258.85 205.07 L259.16 206.00 L259.47 206.93 L259.77 207.85 L260.08 208.77 L260.39 209.68 L260.70 210.59 L261.00 211.49 L261.31 212.38 L261.62 213.27 L261.93 214.15 L262.24 215.03 L262.54 215.91 L262.85 216.77 L263.16 217.63 L263.46 218.49 L263.77 219.34 L264.08 220.19 L264.39 221.03 L264.69 221.87 L265.00 222.70 L265.31 223.52 L265.62 224.34 L265.93 225.16 L266.23 225.97 L266.54 226.77 L266.85 227.57 L267.15 228.37 L267.46 229.16 L267.77 229.95 L268.08 230.73 L268.38 231.50 L268.69 232.28 L269.00 233.04 L269.31 233.81 L269.62 234.56 L269.92 235.32 L270.23 236.07 L270.54 236.81 L270.85 237.55 L271.15 238.29 L271.46 239.02 L271.77 239.74 L272.07 240.47 L272.38 241.18 L272.69 241.90 L273.00 242.61 L273.31 243.31 L273.61 244.01 L273.92 244.71 L274.23 245.40 L274.53 246.09 L274.84 246.78 L275.15 247.46 L275.46 248.13 L275.76 248.80 L276.07 249.47 L276.38 250.14 L276.69 250.80 L277.00 251.45 L277.30 252.11 L277.61 252.75 L277.92 253.40 L278.23 254.04 L278.53 254.68 L278.84 255.31 L279.15 255.94 L279.45 256.57 L279.76 257.19 L280.07 257.81 L280.38 258.42 L280.69 259.03 L280.99 259.64 L281.30 260.25 L281.61 260.85 L281.91 261.45 L282.22 262.04 L282.53 262.63 L282.84 263.22 L283.14 263.80 L283.45 264.38 L283.76 264.96 L284.07 265.53 L284.38 266.10 L284.68 266.67 L284.99 267.23 L285.30 267.79 L285.61 268.35 L285.91 268.90 L286.22 269.45 L286.53 270.00 L286.83 270.54 L287.14 271.09 L287.45 271.62 L287.76 272.16 L288.06 272.69 L288.37 273.22 L288.68 273.75 L288.99 274.27 L289.30 274.79 L289.60 275.30 L289.91 275.82 L290.22 276.33 L290.52 276.84 L290.83 277.34 L291.14 277.84 L291.45 278.34 L291.75 278.84 L292.06 279.33 L292.37 279.83 L292.68 280.31 L292.99 280.80 L293.29 281.28 L293.60 281.76 L293.91 282.24 L294.22 282.71 L294.52 283.18 L294.83 283.65 L295.14 284.12 L295.44 284.58 L295.75 285.04 L296.06 285.50 L296.37 285.96 L296.68 286.41 L296.98 286.86 L297.29 287.31 L297.60 287.76 L297.90 288.20 L298.21 288.64 L298.52 289.08 L298.83 289.52 L299.13 289.95 L299.44 290.38 L299.75 290.81 L300.06 291.24 L300.37 291.66 L300.67 292.08 L300.98 292.50 L301.29 292.92 L301.60 293.33 L301.90 293.74 L302.21 294.15 L302.52 294.56 L302.82 294.97 L303.13 295.37 L303.44 295.77 L303.75 296.17 L304.06 296.56 L304.36 296.96 L304.67 297.35 L304.98 297.74 L305.28 298.13 L305.59 298.51 L305.90 298.90 L306.21 299.28 L306.51 299.66 L306.82 300.03 L307.13 300.41 L307.44 300.78 L307.75 301.15 L308.05 301.52 L308.36 301.89 L308.67 302.25 L308.98 302.62 L309.28 302.98 L309.59 303.34 L309.90 303.69 L310.20 304.05 L310.51 304.40 L310.82 304.75 L311.13 305.10 L311.44 305.45 L311.74 305.79 L312.05 306.14 L312.36 306.48 L312.66 306.82 L312.97 307.15 L313.28 307.49 L313.59 307.82 L313.89 308.16 L314.20 308.49 L314.51 308.81 L314.82 309.14 L315.12 309.46 L315.43 309.79" stroke="#0000ff" stroke-width="1.25"/>
<path d="M229.03 76.35 l1.50 1.88 l-1.50 1.88 l-1.50 -1.88 z" fill="#0000c8"/>
<path d="M232.10 93.58 l1.50 1.88 l-1.50 1.88 l-1.50 -1.88 z" fill="#0000c8"/>
<path d="M235.18 109.65 l1.50 1.88 l-1.50 1.88 l-1.50 -1.88 z" fill="#0000c8"/>
<path d="M238.25 124.66 l1.50 1.88 l-1.50 1.88 l-1.50 -1.88 z" fill="#0000c8"/>
<path d="M241.32 138.69 l1.50 1.88 l-1.50 1.88 l-1.50 -1.88 z" fill="#0000c8"/>
<path d="M244.40 151.80 l1.50 1.88 l-1.50 1.88 l-1.50 -1.88 z" fill="#0000c8"/>
<path d="M247.47 164.08 l1.50 1.88 l-1.50 1.88 l-1.50 -1.88 z" fill="#0000c8"/>
<path d="M250.55 175.58 l1.50 1.88 l-1.50 1.88 l-1.50 -1.88 z" fill="#0000c8"/>
<path d="M253.62 186.37 l1.50 1.88 l-1.50 1.88 l-1.50 -1.88 z" fill="#0000c8"/>
<path d="M256.70 196.48 l1.50 1.88 l-1.50 1.88 l-1.50 -1.88 z" fill="#0000c8"/>
<path d="M259.77 205.98 l1.50 1.88 l-1.50 1.88 l-1.50 -1.88 z" fill="#0000c8"/>
<path d="M262.85 214.90 l1.50 1.88 l-1.50 1.88 l-1.50 -1.88 z" fill="#0000c8"/>
<path d="M265.93 223.28 l1.50 1.88 l-1.50 1.88 l-1.50 -1.88 z" fill="#0000c8"/>
<path d="M269.00 231.17 l1.50 1.88 l-1.50 1.88 l-1.50 -1.88 z" fill="#0000c8"/>
<path d="M272.07 238.59 l1.50 1.88 l-1.50 1.88 l-1.50 -1.88 z" fill="#0000c8"/>
<path d="M275.15 245.58 l1.50 1.88 l-1.50 1.88 l-1.50 -1.88 z" fill="#0000c8"/>
<path d="M278.23 252.17 l1.50 1.88 l-1.50 1.88 l-1.50 -1.88 z" fill="#0000c8"/>
<path d="M281.30 258.37 l1.50 1.88 l-1.50 1.88 l-1.50 -1.88 z" fill="#0000c8"/>
<path d="M284.38 264.23 l1.50 1.88 l-1.50 1.88 l-1.50 -1.88 z" fill="#0000c8"/>
<path d="M287.45 269.75 l1.50 1.88 l-1.50 1.88 l-1.50 -1.88 z" fill="#0000c8"/>
<path d="M290.52 274.96 l1.50 1.88 l-1.50 1.88 l-1.50 -1.88 z" fill="#0000c8"/>
<path d="M293.60 279.89 l1.50 1.88 l-1.50 1.88 l-1.50 -1.88 z" fill="#0000c8"/>
<path d="M296.68 284.54 l1.50 1.88 l-1.50 1.88 l-1.50 -1.88 z" fill="#0000c8"/>
<path d="M299.75 288.93 l1.50 1.88 l-1.50 1.88 l-1.50 -1.88 z" fill="#0000c8"/>
<path d="M302.82 293.09 l1.50 1.88 l-1.50 1.88 l-1.50 -1.88 z" fill="#0000c8"/>
<path d="M305.90 297.02 l1.50 1.88 l-1.50 1.88 l-1.50 -1.88 z" fill="#0000c8"/>
<path d="M308.98 300.74 l1.50 1.88 l-1.50 1.88 l-1.50 -1.88 z" fill="#0000c8"/>
<path d="M241.6 81.4 L241.9 82.7 L242.2 84.0 L242.6 85.2 L242.7 85.7M242.9 86.7 L243.2 87.7 L243.2 87.9M243.5 88.9 L243.5 89.0 L243.8 90.1M244.0 91.1 L244.1 91.4 L244.4 92.6 L244.7 93.8 L245.0 95.0 L245.1 95.4M245.4 96.3 L245.6 97.4 L245.7 97.6M245.9 98.6 L245.9 98.6 L246.2 99.7 L246.3 99.8M246.5 100.8 L246.6 100.9 L246.9 102.1 L247.2 103.2 L247.5 104.3 L247.7 105.0M247.9 106.0 L248.1 106.6 L248.3 107.3M248.5 108.2 L248.7 108.8 L248.9 109.5M249.2 110.4 L249.3 111.0 L249.6 112.1 L249.9 113.2 L250.2 114.2 L250.4 114.7M250.7 115.6 L250.9 116.3 L251.0 116.9M251.3 117.8 L251.5 118.4 L251.7 119.1M252.0 120.0 L252.1 120.5 L252.4 121.5 L252.7 122.5 L253.0 123.6 L253.2 124.3M253.5 125.2 L253.6 125.6 L253.9 126.5M254.2 127.4 L254.2 127.5 L254.5 128.5 L254.6 128.7M254.9 129.6 L255.2 130.4 L255.5 131.4 L255.8 132.4 L256.1 133.3 L256.2 133.8M256.6 134.7 L256.7 135.2 L257.0 136.0M257.3 136.9 L257.3 137.0 L257.6 137.9 L257.7 138.2M258.0 139.1 L258.2 139.8 L258.5 140.7 L258.9 141.6 L259.2 142.4 L259.4 143.3M259.8 144.2 L260.1 145.1 L260.2 145.4M260.5 146.4 L260.7 146.8 L261.0 147.6M261.3 148.5 L261.6 149.3 L261.9 150.2 L262.2 151.0 L262.5 151.9 L262.8 152.7M263.2 153.6 L263.5 154.3 L263.7 154.8M264.0 155.8 L264.1 155.9 L264.4 156.7 L264.5 157.0M264.8 157.9 L265.0 158.3 L265.3 159.1 L265.6 159.9 L265.9 160.6 L266.2 161.4 L266.5 162.0M266.8 162.9 L266.8 162.9 L267.2 163.7 L267.3 164.1M267.7 165.0 L267.8 165.2 L268.1 165.9 L268.2 166.2M268.6 167.2 L268.7 167.4 L269.0 168.1 L269.3 168.8 L269.6 169.6 L269.9 170.3 L270.2 171.0 L270.3 171.2M270.7 172.1 L270.8 172.4 L271.2 173.1 L271.3 173.3M271.7 174.2 L271.8 174.5 L272.1 175.2 L272.2 175.4M272.6 176.3 L272.7 176.5 L273.0 177.2 L273.3 177.9 L273.6 178.5 L273.9 179.2 L274.2 179.8 L274.5 180.3M274.9 181.2 L275.1 181.8 L275.4 182.4M275.9 183.3 L276.1 183.7 L276.4 184.3 L276.4 184.5M276.9 185.4 L277.0 185.6 L277.3 186.2 L277.6 186.8 L277.9 187.4 L278.2 188.0 L278.5 188.6 L278.8 189.2 L278.9 189.3M279.3 190.2 L279.5 190.4 L279.8 191.0 L279.9 191.3M280.4 192.2 L280.7 192.8 L281.0 193.3 L281.0 193.4M281.5 194.3 L281.6 194.5 L281.9 195.1 L282.2 195.6 L282.5 196.2 L282.8 196.7 L283.1 197.3 L283.5 197.8 L283.6 198.1M284.1 199.0 L284.4 199.5 L284.7 200.0 L284.7 200.1M285.2 201.0 L285.3 201.1 L285.6 201.6 L285.9 202.1M286.4 203.0 L286.5 203.2 L286.8 203.7 L287.1 204.2 L287.4 204.7 L287.8 205.2 L288.1 205.7 L288.4 206.2 L288.7 206.7 L288.7 206.7M289.2 207.6 L289.3 207.7 L289.6 208.2 L289.9 208.7M290.4 209.5 L290.5 209.6 L290.8 210.1 L291.1 210.6 L291.1 210.6M291.7 211.4 L291.8 211.5 L292.1 212.0 L292.4 212.5 L292.7 212.9 L293.0 213.4 L293.3 213.9 L293.6 214.3 L293.9 214.8 L294.1 215.1M294.7 215.9 L294.8 216.1 L295.1 216.6 L295.4 217.0M296.0 217.8 L296.1 217.9 L296.4 218.3 L296.7 218.7 L296.8 218.9M297.4 219.7 L297.6 220.0 L297.9 220.4 L298.2 220.8 L298.5 221.3 L298.8 221.7 L299.1 222.1 L299.4 222.5 L299.8 222.9 L300.0 223.2M300.6 224.0 L300.7 224.1 L301.0 224.5 L301.3 224.9 L301.4 225.0M302.0 225.8 L302.2 226.1 L302.5 226.5 L302.8 226.8M303.4 227.6 L303.7 228.0 L304.1 228.4 L304.4 228.7 L304.7 229.1 L305.0 229.5 L305.3 229.9 L305.6 230.2 L305.9 230.6 L306.2 230.9 L306.3 231.0M306.9 231.8 L307.1 232.0 L307.4 232.4 L307.7 232.7 L307.8 232.7M308.4 233.5 L308.7 233.8 L309.0 234.1 L309.3 234.5M309.9 235.2 L310.2 235.5 L310.5 235.8 L310.8 236.2 L311.1 236.5 L311.4 236.8 L311.7 237.1 L312.1 237.5 L312.4 237.8 L312.7 238.1 L312.9 238.4M313.6 239.1 L313.9 239.4 L314.2 239.7 L314.5 240.0 L314.6 240.1M315.3 240.8 L315.4 241.0 L315.7 241.3 L316.0 241.6 L316.2 241.7M316.9 242.4 L317.3 242.8 L317.9 243.4 L318.5 244.0 L319.1 244.5 L319.7 245.1 L320.1 245.4M320.8 246.1 L321.0 246.2 L321.3 246.5 L321.6 246.8 L321.8 247.0M322.5 247.6 L322.8 247.9 L323.1 248.2 L323.4 248.4 L323.5 248.5M324.3 249.2 L324.7 249.5 L325.3 250.0 L325.9 250.5 L326.5 251.1 L327.1 251.6 L327.6 252.0M328.4 252.6 L328.7 252.8 L329.0 253.1 L329.3 253.3 L329.4 253.4M330.2 254.0 L330.5 254.3 L330.8 254.5 L331.1 254.7 L331.2 254.8M332.0 255.4 L332.3 255.7 L333.0 256.1 L333.6 256.6 L334.2 257.0 L334.8 257.5 L335.4 257.9 L335.6 258.1M336.4 258.6 L336.6 258.8 L337.0 259.0 L337.3 259.2 L337.5 259.4M338.3 259.9 L338.5 260.1 L338.8 260.3 L339.1 260.5 L339.4 260.7M340.2 261.2 L340.6 261.5 L341.3 261.9 L341.9 262.3 L342.5 262.7 L343.1 263.1 L343.7 263.5 L343.9 263.6M344.7 264.1 L345.0 264.3 L345.3 264.5 L345.6 264.6 L345.8 264.8M346.7 265.3 L346.8 265.4 L347.1 265.6 L347.4 265.7 L347.7 265.9 L347.8 266.0M348.7 266.5 L349.3 266.8 L349.9 267.2 L350.5 267.5 L351.1 267.9 L351.7 268.2 L352.3 268.5 L352.5 268.6M353.4 269.1 L353.6 269.2 L353.9 269.4 L354.2 269.5 L354.5 269.7 L354.6 269.7M355.4 270.2 L355.7 270.3 L356.0 270.5 L356.3 270.7 L356.6 270.8M357.5 271.2 L357.9 271.4 L358.5 271.7 L359.1 272.1 L359.7 272.4 L360.3 272.7 L360.9 272.9 L361.4 273.2M362.3 273.6 L362.5 273.7 L362.8 273.8 L363.1 274.0 L363.4 274.1 L363.5 274.2M364.4 274.6 L364.6 274.7 L364.9 274.8 L365.2 274.9 L365.6 275.1 L365.6 275.1M366.5 275.5 L367.1 275.8 L367.7 276.0 L368.3 276.3 L368.9 276.6 L369.6 276.8 L370.2 277.1 L370.6 277.2M371.5 277.6 L371.7 277.7 L372.0 277.8 L372.3 278.0 L372.6 278.1 L372.7 278.1M373.6 278.5 L373.9 278.6 L374.2 278.7 L374.5 278.8 L374.8 278.9 L374.8 278.9M375.8 279.3 L376.3 279.5 L376.9 279.7 L377.5 280.0 L378.2 280.2 L378.8 280.4 L379.4 280.7 L379.9 280.8M380.8 281.2 L380.9 281.2 L381.2 281.3 L381.5 281.4 L381.9 281.5 L382.1 281.6M383.0 281.9 L383.1 282.0 L383.4 282.1 L383.7 282.2 L384.0 282.3 L384.2 282.4M385.2 282.7 L385.5 282.8 L386.2 283.0 L386.8 283.2 L387.4 283.4 L388.0 283.6 L388.6 283.8 L389.2 284.0 L389.4 284.0M390.3 284.3 L390.5 284.4 L390.8 284.5 L391.1 284.6 L391.4 284.7 L391.6 284.7" stroke="#ff8000" stroke-width="1.45"/>
<path d="M235.5 81.2 L235.8 82.8M236.5 86.9 L236.7 87.8 L237.0 89.4 L237.3 91.0 L237.6 92.7 L237.9 94.3 L238.1 95.1M238.9 99.6 L238.9 99.6 L239.1 101.2M239.8 105.3 L239.8 105.4 L240.1 107.4 L240.4 109.4 L240.7 111.5 L241.0 113.6M241.7 118.1 L241.9 119.6M242.5 123.8 L242.6 124.4 L242.9 126.5 L243.2 128.7 L243.5 130.8 L243.7 132.1M244.3 136.6 L244.4 137.1 L244.6 138.2M245.2 142.3 L245.3 143.3 L245.6 145.2 L245.9 147.2 L246.2 149.1 L246.5 150.6M247.2 155.0 L247.5 156.5 L247.5 156.6M248.2 160.8 L248.4 162.1 L248.7 163.9 L249.0 165.8 L249.3 167.6 L249.6 169.1M250.3 173.5 L250.6 174.8 L250.6 175.1M251.3 179.2 L251.5 180.1 L251.8 181.8 L252.1 183.5 L252.4 185.2 L252.7 186.8 L252.8 187.5M253.7 191.9 L253.9 193.1 L254.0 193.4M254.9 197.6 L255.2 198.9 L255.5 200.3 L255.8 201.7 L256.1 203.0 L256.4 204.2 L256.7 205.3 L256.8 205.7M258.2 210.0 L258.2 210.0 L258.5 210.9 L258.8 211.5M260.1 215.5 L260.4 216.3 L260.7 217.1 L261.0 218.0 L261.3 218.9 L261.6 219.7 L261.9 220.5 L262.2 221.3 L262.5 222.0 L262.9 222.8 L263.1 223.3M264.8 227.5 L265.0 227.9 L265.3 228.8 L265.4 229.0M266.5 233.1 L266.5 233.4 L266.8 234.6 L267.2 235.8 L267.5 236.8 L267.8 237.8 L268.1 238.6 L268.4 239.4 L268.7 240.1 L269.0 240.8 L269.1 241.0M272.7 243.1 L272.7 243.1 L273.0 243.1 L273.3 243.2 L273.6 243.2 L273.9 243.4 L274.2 243.5M277.5 246.1 L278.2 246.6 L279.1 247.4 L280.1 248.2 L281.0 248.9 L281.9 249.7 L282.8 250.5 L283.8 251.3 L283.9 251.5M287.3 254.4 L287.4 254.5 L287.8 254.8 L288.1 255.1 L288.4 255.5 L288.4 255.6M290.8 259.0 L291.1 259.6 L291.8 260.6 L292.4 261.7 L293.0 262.8 L293.6 263.9 L294.2 265.0 L294.8 266.1 L295.0 266.3M297.3 270.2 L297.6 270.6 L297.9 271.1 L298.2 271.5M300.3 275.2 L300.7 275.8 L301.3 276.9 L301.9 278.0 L302.5 279.1 L303.1 280.2 L303.7 281.4 L304.3 282.5M306.2 286.6 L306.2 286.7 L306.5 287.3 L306.8 288.0 L306.8 288.1M308.6 291.9 L309.0 292.8 L309.6 294.1 L310.2 295.4 L310.8 296.7 L311.4 298.0 L312.1 299.3 L312.1 299.5M314.0 303.6 L314.2 303.9 L314.5 304.6 L314.7 305.0M316.5 308.8 L316.7 309.1 L317.0 309.7" stroke="#9a18b4" stroke-width="1.40"/>
<path d="M233.3 80.9 L233.5 82.0M233.6 82.8 L233.8 83.9M234.0 84.7 L234.2 85.8M234.3 86.6 L234.5 87.6M234.6 88.4 L234.8 89.5M234.9 90.3 L235.1 91.4M235.3 92.2 L235.4 93.3M235.6 94.0 L235.8 95.1M235.9 95.9 L236.0 97.0M236.2 97.8 L236.3 98.9M236.4 99.7 L236.6 100.8M236.7 101.6 L236.7 101.6 L236.9 102.7M237.0 103.4 L237.0 103.9 L237.1 104.5M237.2 105.3 L237.3 106.3 L237.3 106.4M237.4 107.2 L237.6 108.3M237.7 109.1 L237.8 110.2M237.9 111.0 L237.9 111.2 L238.1 112.1M238.1 112.9 L238.2 113.7 L238.3 114.0M238.4 114.8 L238.5 115.8M238.6 116.6 L238.7 117.7M238.8 118.5 L238.9 118.8 L239.0 119.6M239.1 120.4 L239.2 121.4 L239.2 121.5M239.3 122.3 L239.4 123.4M239.5 124.2 L239.6 125.3M239.7 126.1 L239.8 126.6 L239.9 127.2M239.9 128.0 L240.1 129.1M240.2 129.8 L240.3 130.9M240.4 131.7 L240.4 131.8 L240.5 132.8M240.6 133.6 L240.7 134.3 L240.8 134.7M240.9 135.5 L241.0 136.6M241.1 137.4 L241.2 138.5M241.3 139.3 L241.5 140.4M241.6 141.2 L241.6 141.6 L241.7 142.3M241.8 143.0 L241.9 143.9 L242.0 144.1M242.1 144.9 L242.2 146.0M242.3 146.8 L242.5 147.9M242.6 148.7 L242.8 149.8M242.9 150.6 L243.0 151.7M243.2 152.5 L243.2 152.5 L243.3 153.5M243.4 154.3 L243.5 154.6 L243.6 155.4M243.7 156.2 L243.8 156.7 L243.9 157.3M244.0 158.1 L244.1 158.8 L244.2 159.2M244.3 160.0 L244.4 160.9 L244.4 161.1M244.5 161.9 L244.7 162.9M244.8 163.7 L245.0 164.8M245.1 165.6 L245.3 166.7M245.4 167.5 L245.5 168.6M245.7 169.4 L245.8 170.5M246.0 171.2 L246.1 172.3M246.3 173.1 L246.4 174.2M246.6 175.0 L246.7 176.1M246.9 176.9 L247.1 178.0M247.2 178.7 L247.4 179.8M247.5 180.6 L247.7 181.7M247.9 182.5 L248.1 183.5 L248.1 183.6M248.3 184.3 L248.4 185.0 L248.5 185.4M248.7 186.2 L248.7 186.4 L248.9 187.3M249.1 188.1 L249.3 189.0 L249.4 189.1M249.6 189.9 L249.6 190.1 L249.9 190.9M250.1 191.7 L250.2 192.1 L250.5 192.8M250.7 193.5 L250.9 193.9 L251.1 194.5M251.4 195.3 L251.5 195.5 L251.8 196.3M252.0 197.1 L252.1 197.2 L252.4 198.1 L252.4 198.1M252.6 198.9 L252.7 199.0 L253.0 199.9M253.2 200.7 L253.3 201.2 L253.5 201.8M253.6 202.5 L253.9 203.6M254.1 204.4 L254.2 205.2 L254.3 205.5M254.4 206.3 L254.5 206.8 L254.7 207.3M254.8 208.1 L254.9 208.4 L255.0 209.2M255.2 210.0 L255.5 210.9 L255.5 211.0M255.7 211.8 L255.8 211.9 L256.1 212.8M256.4 213.6 L256.4 213.7 L256.7 214.5 L256.7 214.6M257.0 215.4 L257.3 216.1 L257.4 216.4M257.7 217.1 L257.9 217.6 L258.2 218.1M258.5 218.9 L258.5 219.0 L258.9 219.7 L258.9 219.9M259.3 220.6 L259.5 221.0 L259.7 221.6M260.1 222.3 L260.4 222.9 L260.6 223.3M261.0 224.0 L261.0 224.1 L261.3 224.7 L261.5 225.0M261.8 225.7 L261.9 225.9 L262.2 226.4 L262.4 226.7M262.7 227.4 L262.9 227.6 L263.2 228.1 L263.3 228.3M263.7 229.0 L263.8 229.2 L264.1 229.8 L264.2 230.0M264.6 230.7 L264.7 230.8 L265.0 231.4 L265.2 231.6M265.6 232.3 L265.6 232.4 L265.9 232.8 L266.2 233.2M266.6 233.9 L266.8 234.2 L267.2 234.6 L267.3 234.8M267.8 235.4 L267.8 235.4 L268.1 235.8 L268.4 236.1 L268.5 236.3M269.0 236.8 L269.3 237.2 L269.6 237.5 L269.8 237.6M270.3 238.2 L270.5 238.4 L270.8 238.7 L271.1 239.0M271.7 239.5 L271.8 239.6 L272.1 239.9 L272.4 240.1 L272.5 240.3M273.1 240.8 L273.3 241.0 L273.6 241.3 L273.9 241.5 L273.9 241.5M274.5 242.1 L274.5 242.1 L274.8 242.3 L275.1 242.6 L275.4 242.8M276.0 243.3 L276.1 243.3 L276.4 243.6 L276.7 243.8 L276.9 243.9M277.5 244.4 L277.6 244.5 L277.9 244.7 L278.2 245.0 L278.4 245.1M279.0 245.6 L279.1 245.7 L279.5 246.0 L279.8 246.3 L279.8 246.3M280.4 246.9 L280.7 247.2 L281.0 247.6 L281.1 247.8M281.6 248.4 L281.6 248.5 L281.9 248.9 L282.2 249.3M282.6 250.0 L282.8 250.5 L283.1 251.0M283.5 251.7 L283.8 252.1 L284.0 252.6M284.4 253.3 L284.7 253.8 L284.9 254.3M285.3 255.0 L285.6 255.6 L285.8 256.0M286.1 256.7 L286.2 257.0 L286.5 257.8M286.8 258.5 L286.8 258.6 L287.1 259.4 L287.2 259.5M287.5 260.3 L287.8 261.1 L287.8 261.3M288.1 262.1 L288.4 262.8 L288.5 263.1M288.8 263.9 L289.0 264.4 L289.2 264.9M289.4 265.6 L289.6 266.0 L289.9 266.6M290.2 267.4 L290.2 267.5 L290.5 268.2 L290.6 268.4M290.9 269.1 L291.1 269.6 L291.4 270.1M291.7 270.9 L291.8 270.9 L292.1 271.6 L292.2 271.8M292.5 272.6 L292.7 272.9 L293.0 273.5 L293.0 273.6M293.3 274.3 L293.6 274.8 L293.8 275.3M294.2 276.0 L294.2 276.1 L294.5 276.7 L294.7 277.0M295.0 277.7 L295.1 278.0 L295.4 278.6 L295.5 278.7M295.8 279.4 L296.1 279.9 L296.3 280.4M296.6 281.1 L296.7 281.3 L297.0 282.0 L297.1 282.1M297.4 282.9 L297.6 283.3 L297.8 283.9M298.2 284.6 L298.2 284.7 L298.5 285.4 L298.6 285.6M298.9 286.4 L299.1 286.8 L299.4 287.4M299.7 288.1 L299.8 288.2 L300.1 288.9 L300.1 289.1M300.4 289.8 L300.7 290.4 L300.9 290.9M301.2 291.6 L301.3 291.8 L301.6 292.5 L301.6 292.6M301.9 293.3 L302.2 294.0 L302.4 294.3M302.7 295.1 L302.8 295.4 L303.1 296.1M303.4 296.8 L303.4 296.9 L303.7 297.6 L303.8 297.8M304.2 298.6 L304.4 299.1 L304.6 299.6M304.9 300.3 L305.0 300.6 L305.3 301.3 L305.3 301.4M305.6 302.1 L305.9 302.8 L306.0 303.1M306.4 303.8 L306.5 304.2 L306.8 304.9M307.1 305.6 L307.1 305.7 L307.4 306.4 L307.5 306.6M307.8 307.4 L308.1 307.9 L308.2 308.4M308.5 309.1 L308.7 309.4" stroke="#0a8a0a" stroke-width="1.60"/>
<path d="M231.2 80.6 L231.8 84.0 L232.4 87.3 L233.0 90.6 L233.6 93.9 L234.3 97.1 L234.9 100.2 L235.3 102.4M236.9 110.1 L237.9 115.4 L239.2 121.1 L240.4 126.7 L241.6 132.1 L242.9 137.4 L243.5 140.1M245.2 147.2 L246.2 151.2 L247.5 156.0 L248.7 160.6 L249.9 165.1 L251.2 169.4 L252.4 173.7 L252.6 174.3M254.5 180.7 L255.5 183.8 L256.7 187.7 L257.9 191.5 L259.2 195.1 L260.4 198.7 L261.6 202.2 L262.5 204.6M264.6 210.2 L265.9 213.6 L267.5 217.4 L269.0 221.1 L270.5 224.7 L272.1 228.2 L273.2 230.6M275.4 235.3 L276.7 237.9 L278.2 241.0 L279.8 243.9 L281.3 246.8 L282.8 249.5 L284.4 252.2 L284.4 252.3M286.8 256.2 L288.1 258.3 L289.6 260.7 L291.1 263.0 L292.7 265.3 L294.2 267.5 L295.8 269.6 L296.1 270.1M298.5 273.2 L299.8 274.8 L301.3 276.7 L302.8 278.5 L304.4 280.3 L305.9 282.0 L307.4 283.6 L308.1 284.4M310.5 286.8 L312.1 288.4 L313.6 289.8 L315.1 291.3 L316.7 292.6 L318.2 294.0 L319.7 295.3 L320.3 295.7M322.7 297.7 L324.0 298.7 L325.6 299.9 L327.1 301.0 L328.7 302.1 L330.2 303.2 L331.7 304.2 L332.6 304.8M335.0 306.3 L335.7 306.7 L336.6 307.3 L337.6 307.8 L338.5 308.4 L339.4 308.9 L340.3 309.4 L341.3 309.9" stroke="#ff0000" stroke-width="1.15"/>
<path d="M233.94 81.17 L234.25 82.77 L234.56 84.36 L234.87 85.93 L235.18 87.49 L235.48 89.05 L235.79 90.59 L236.10 92.12 L236.41 93.63 L236.71 95.14 L237.02 96.64 L237.33 98.12 L237.63 99.60 L237.94 101.06 L238.25 102.52 L238.56 103.96 L238.87 105.40 L239.17 106.82 L239.48 108.23 L239.79 109.64 L240.09 111.03 L240.40 112.41 L240.71 113.79 L241.02 115.15 L241.32 116.50 L241.63 117.85 L241.94 119.18 L242.25 120.51 L242.56 121.82 L242.86 123.13 L243.17 124.43 L243.48 125.71 L243.78 126.99 L244.09 128.26 L244.40 129.52 L244.71 130.78 L245.01 132.02 L245.32 133.25 L245.63 134.48 L245.94 135.70 L246.25 136.91 L246.55 138.11 L246.86 139.30 L247.17 140.48 L247.47 141.66 L247.78 142.82 L248.09 143.98 L248.40 145.13 L248.70 146.28 L249.01 147.41 L249.32 148.54 L249.63 149.66 L249.94 150.77 L250.24 151.87 L250.55 152.97 L250.86 154.06 L251.16 155.14 L251.47 156.21 L251.78 157.28 L252.09 158.34 L252.39 159.39 L252.70 160.43 L253.01 161.47 L253.32 162.50 L253.62 163.52 L253.93 164.53 L254.24 165.54 L254.55 166.54 L254.85 167.54 L255.16 168.53 L255.47 169.51 L255.78 170.48 L256.08 171.45 L256.39 172.41 L256.70 173.36 L257.01 174.31 L257.31 175.25 L257.62 176.19 L257.93 177.12 L258.24 178.04 L258.55 178.96 L258.85 179.86 L259.16 180.77 L259.47 181.67 L259.77 182.56 L260.08 183.44 L260.39 184.32 L260.70 185.19 L261.00 186.06 L261.31 186.92 L261.62 187.78 L261.93 188.63 L262.24 189.47 L262.54 190.31 L262.85 191.14 L263.16 191.97 L263.46 192.79 L263.77 193.61 L264.08 194.42 L264.39 195.22 L264.69 196.02 L265.00 196.82 L265.31 197.61 L265.62 198.39 L265.93 199.17 L266.23 199.94 L266.54 200.71 L266.85 201.47 L267.15 202.23 L267.46 202.98 L267.77 203.73 L268.08 204.47 L268.38 205.21 L268.69 205.94 L269.00 206.67 L269.31 207.39 L269.62 208.11 L269.92 208.82 L270.23 209.53 L270.54 210.23 L270.85 210.93 L271.15 211.63 L271.46 212.32 L271.77 213.00 L272.07 213.68 L272.38 214.36 L272.69 215.03 L273.00 215.70 L273.31 216.36 L273.61 217.02 L273.92 217.67 L274.23 218.32 L274.53 218.97 L274.84 219.61 L275.15 220.25 L275.46 220.88 L275.76 221.51 L276.07 222.13 L276.38 222.75 L276.69 223.37 L277.00 223.98 L277.30 224.59 L277.61 225.19 L277.92 225.79 L278.23 226.39 L278.53 226.98 L278.84 227.57 L279.15 228.16 L279.45 228.74 L279.76 229.31 L280.07 229.89 L280.38 230.46 L280.69 231.02 L280.99 231.58 L281.30 232.14 L281.61 232.70 L281.91 233.25 L282.22 233.80 L282.53 234.34 L282.84 234.88 L283.14 235.42 L283.45 235.95 L283.76 236.48 L284.07 237.01 L284.38 237.53 L284.68 238.05 L284.99 238.56 L285.30 239.08 L285.61 239.59 L285.91 240.09 L286.22 240.60 L286.53 241.10 L286.83 241.59 L287.14 242.09 L287.45 242.58 L287.76 243.06 L288.06 243.55 L288.37 244.03 L288.68 244.50 L288.99 244.98 L289.30 245.45 L289.60 245.92 L289.91 246.38 L290.22 246.85 L290.52 247.31 L290.83 247.76 L291.14 248.22 L291.45 248.67 L291.75 249.11 L292.06 249.56 L292.37 250.00 L292.68 250.44 L292.99 250.88 L293.29 251.31 L293.60 251.74 L293.91 252.17 L294.22 252.59 L294.52 253.01 L294.83 253.43 L295.14 253.85 L295.44 254.27 L295.75 254.68 L296.06 255.09 L296.37 255.49 L296.68 255.90 L296.98 256.30 L297.29 256.70 L297.60 257.09 L297.90 257.49 L298.21 257.88 L298.52 258.27 L298.83 258.65 L299.13 259.04 L299.44 259.42 L299.75 259.80 L300.06 260.17 L300.37 260.55 L300.67 260.92 L300.98 261.29 L301.29 261.65 L301.60 262.02 L301.90 262.38 L302.21 262.74 L302.52 263.10 L302.82 263.45 L303.13 263.81 L303.44 264.16 L303.75 264.51 L304.06 264.85 L304.36 265.20 L304.67 265.54 L304.98 265.88 L305.28 266.22 L305.59 266.55 L305.90 266.89 L306.21 267.22 L306.51 267.55 L306.82 267.87 L307.13 268.20 L307.44 268.52 L307.75 268.84 L308.05 269.16 L308.36 269.48 L308.67 269.79 L308.98 270.11 L309.28 270.42 L309.59 270.73 L309.90 271.03 L310.20 271.34 L310.51 271.64 L310.82 271.94 L311.13 272.24 L311.44 272.54 L311.74 272.84 L312.05 273.13 L312.36 273.42 L312.66 273.71 L312.97 274.00 L313.28 274.29 L313.59 274.57 L313.89 274.86 L314.20 275.14 L314.51 275.42 L314.82 275.69 L315.12 275.97 L315.43 276.24 L315.74 276.52 L316.05 276.79 L316.36 277.06 L316.66 277.32 L316.97 277.59 L317.28 277.85 L317.58 278.12 L317.89 278.38 L318.20 278.64 L318.51 278.89 L318.81 279.15 L319.12 279.40 L319.43 279.66 L319.74 279.91 L320.05 280.16 L320.35 280.41 L320.66 280.65 L320.97 280.90 L321.27 281.14 L321.58 281.38 L321.89 281.62 L322.20 281.86 L322.50 282.10 L322.81 282.33 L323.12 282.57 L323.43 282.80 L323.74 283.03 L324.04 283.26 L324.35 283.49 L324.66 283.72 L324.97 283.94 L325.27 284.17 L325.58 284.39 L325.89 284.61 L326.19 284.83 L326.50 285.05 L326.81 285.27 L327.12 285.49 L327.43 285.70 L327.73 285.91 L328.04 286.13 L328.35 286.34 L328.65 286.55 L328.96 286.75 L329.27 286.96 L329.58 287.17 L329.88 287.37 L330.19 287.57 L330.50 287.78 L330.81 287.98 L331.12 288.18 L331.42 288.37 L331.73 288.57 L332.04 288.77 L332.35 288.96 L332.65 289.15 L332.96 289.35 L333.27 289.54 L333.57 289.73 L333.88 289.91 L334.19 290.10 L334.50 290.29 L334.81 290.47 L335.11 290.66 L335.42 290.84 L335.73 291.02 L336.03 291.20 L336.34 291.38 L336.65 291.56 L336.96 291.73 L337.26 291.91 L337.57 292.08 L337.88 292.26 L338.19 292.43 L338.50 292.60 L338.80 292.77 L339.11 292.94 L339.42 293.11 L339.73 293.28 L340.03 293.44 L340.34 293.61 L340.65 293.77 L340.95 293.94 L341.26 294.10 L341.57 294.26 L341.88 294.42 L342.19 294.58 L342.49 294.74 L342.80 294.90 L343.11 295.05 L343.41 295.21 L343.72 295.36 L344.03 295.51 L344.34 295.67 L344.64 295.82 L344.95 295.97 L345.26 296.12 L345.57 296.27 L345.88 296.42 L346.18 296.56 L346.49 296.71 L346.80 296.85 L347.11 297.00 L347.41 297.14 L347.72 297.28 L348.03 297.42 L348.34 297.56 L348.64 297.70 L348.95 297.84 L349.26 297.98 L349.56 298.12 L349.87 298.25 L350.18 298.39 L350.49 298.52 L350.79 298.66 L351.10 298.79 L351.41 298.92 L351.72 299.05 L352.02 299.18 L352.33 299.31 L352.64 299.44 L352.95 299.57 L353.25 299.70 L353.56 299.82 L353.87 299.95 L354.18 300.08 L354.49 300.20 L354.79 300.32 L355.10 300.44 L355.41 300.57 L355.72 300.69 L356.02 300.81 L356.33 300.93 L356.64 301.05 L356.94 301.16 L357.25 301.28 L357.56 301.40 L357.87 301.51 L358.18 301.63 L358.48 301.74 L358.79 301.86 L359.10 301.97 L359.40 302.08 L359.71 302.19 L360.02 302.30 L360.33 302.41 L360.63 302.52 L360.94 302.63 L361.25 302.74 L361.56 302.85 L361.87 302.96 L362.17 303.06 L362.48 303.17 L362.79 303.27 L363.10 303.38 L363.40 303.48 L363.71 303.58 L364.02 303.68 L364.32 303.79 L364.63 303.89 L364.94 303.99 L365.25 304.09 L365.56 304.19 L365.86 304.28 L366.17 304.38 L366.48 304.48 L366.78 304.57 L367.09 304.67 L367.40 304.77 L367.71 304.86 L368.01 304.96 L368.32 305.05 L368.63 305.14 L368.94 305.23 L369.25 305.33 L369.55 305.42 L369.86 305.51 L370.17 305.60 L370.48 305.69 L370.78 305.78 L371.09 305.86 L371.40 305.95 L371.70 306.04 L372.01 306.13 L372.32 306.21 L372.63 306.30 L372.94 306.38 L373.24 306.47 L373.55 306.55 L373.86 306.63 L374.16 306.72 L374.47 306.80 L374.78 306.88 L375.09 306.96 L375.39 307.04 L375.70 307.12 L376.01 307.20 L376.32 307.28 L376.62 307.36 L376.93 307.44 L377.24 307.52 L377.55 307.60 L377.86 307.67 L378.16 307.75 L378.47 307.82 L378.78 307.90 L379.09 307.97 L379.39 308.05 L379.70 308.12 L380.01 308.20 L380.31 308.27 L380.62 308.34 L380.93 308.41 L381.24 308.48 L381.54 308.56 L381.85 308.63 L382.16 308.70 L382.47 308.77 L382.77 308.84 L383.08 308.90 L383.39 308.97 L383.70 309.04 L384.00 309.11 L384.31 309.17 L384.62 309.24 L384.93 309.31 L385.24 309.37 L385.54 309.44 L385.85 309.50 L386.16 309.57 L386.47 309.63 L386.77 309.70 L387.08 309.76 L387.39 309.82 L387.69 309.88 L388.00 309.95" stroke="#000000" stroke-width="1.05"/>
</g>
<rect x="207.50" y="93.20" width="184.50" height="212.55" fill="none" stroke="#000" stroke-width="1.4"/>
<line x1="207.50" y1="305.75" x2="207.50" y2="301.75" stroke="#000" stroke-width="1.25"/>
<line x1="207.50" y1="93.20" x2="207.50" y2="97.20" stroke="#000" stroke-width="1.25"/>
<line x1="238.25" y1="305.75" x2="238.25" y2="303.75" stroke="#000" stroke-width="1.25"/>
<line x1="238.25" y1="93.20" x2="238.25" y2="95.20" stroke="#000" stroke-width="1.25"/>
<line x1="269.00" y1="305.75" x2="269.00" y2="301.75" stroke="#000" stroke-width="1.25"/>
<line x1="269.00" y1="93.20" x2="269.00" y2="97.20" stroke="#000" stroke-width="1.25"/>
<line x1="299.75" y1="305.75" x2="299.75" y2="303.75" stroke="#000" stroke-width="1.25"/>
<line x1="299.75" y1="93.20" x2="299.75" y2="95.20" stroke="#000" stroke-width="1.25"/>
<line x1="330.50" y1="305.75" x2="330.50" y2="301.75" stroke="#000" stroke-width="1.25"/>
<line x1="330.50" y1="93.20" x2="330.50" y2="97.20" stroke="#000" stroke-width="1.25"/>
<line x1="361.25" y1="305.75" x2="361.25" y2="303.75" stroke="#000" stroke-width="1.25"/>
<line x1="361.25" y1="93.20" x2="361.25" y2="95.20" stroke="#000" stroke-width="1.25"/>
<line x1="392.00" y1="305.75" x2="392.00" y2="301.75" stroke="#000" stroke-width="1.25"/>
<line x1="392.00" y1="93.20" x2="392.00" y2="97.20" stroke="#000" stroke-width="1.25"/>
<line x1="207.50" y1="305.75" x2="211.50" y2="305.75" stroke="#000" stroke-width="1.25"/>
<line x1="392.00" y1="305.75" x2="388.00" y2="305.75" stroke="#000" stroke-width="1.25"/>
<line x1="207.50" y1="295.12" x2="209.50" y2="295.12" stroke="#000" stroke-width="1.25"/>
<line x1="392.00" y1="295.12" x2="390.00" y2="295.12" stroke="#000" stroke-width="1.25"/>
<line x1="207.50" y1="284.50" x2="209.50" y2="284.50" stroke="#000" stroke-width="1.25"/>
<line x1="392.00" y1="284.50" x2="390.00" y2="284.50" stroke="#000" stroke-width="1.25"/>
<line x1="207.50" y1="273.87" x2="209.50" y2="273.87" stroke="#000" stroke-width="1.25"/>
<line x1="392.00" y1="273.87" x2="390.00" y2="273.87" stroke="#000" stroke-width="1.25"/>
<line x1="207.50" y1="263.24" x2="209.50" y2="263.24" stroke="#000" stroke-width="1.25"/>
<line x1="392.00" y1="263.24" x2="390.00" y2="263.24" stroke="#000" stroke-width="1.25"/>
<line x1="207.50" y1="252.61" x2="211.50" y2="252.61" stroke="#000" stroke-width="1.25"/>
<line x1="392.00" y1="252.61" x2="388.00" y2="252.61" stroke="#000" stroke-width="1.25"/>
<line x1="207.50" y1="241.99" x2="209.50" y2="241.99" stroke="#000" stroke-width="1.25"/>
<line x1="392.00" y1="241.99" x2="390.00" y2="241.99" stroke="#000" stroke-width="1.25"/>
<line x1="207.50" y1="231.36" x2="209.50" y2="231.36" stroke="#000" stroke-width="1.25"/>
<line x1="392.00" y1="231.36" x2="390.00" y2="231.36" stroke="#000" stroke-width="1.25"/>
<line x1="207.50" y1="220.73" x2="209.50" y2="220.73" stroke="#000" stroke-width="1.25"/>
<line x1="392.00" y1="220.73" x2="390.00" y2="220.73" stroke="#000" stroke-width="1.25"/>
<line x1="207.50" y1="210.10" x2="209.50" y2="210.10" stroke="#000" stroke-width="1.25"/>
<line x1="392.00" y1="210.10" x2="390.00" y2="210.10" stroke="#000" stroke-width="1.25"/>
<line x1="207.50" y1="199.47" x2="211.50" y2="199.47" stroke="#000" stroke-width="1.25"/>
<line x1="392.00" y1="199.47" x2="388.00" y2="199.47" stroke="#000" stroke-width="1.25"/>
<line x1="207.50" y1="188.85" x2="209.50" y2="188.85" stroke="#000" stroke-width="1.25"/>
<line x1="392.00" y1="188.85" x2="390.00" y2="188.85" stroke="#000" stroke-width="1.25"/>
<line x1="207.50" y1="178.22" x2="209.50" y2="178.22" stroke="#000" stroke-width="1.25"/>
<line x1="392.00" y1="178.22" x2="390.00" y2="178.22" stroke="#000" stroke-width="1.25"/>
<line x1="207.50" y1="167.59" x2="209.50" y2="167.59" stroke="#000" stroke-width="1.25"/>
<line x1="392.00" y1="167.59" x2="390.00" y2="167.59" stroke="#000" stroke-width="1.25"/>
<line x1="207.50" y1="156.97" x2="209.50" y2="156.97" stroke="#000" stroke-width="1.25"/>
<line x1="392.00" y1="156.97" x2="390.00" y2="156.97" stroke="#000" stroke-width="1.25"/>
<line x1="207.50" y1="146.34" x2="211.50" y2="146.34" stroke="#000" stroke-width="1.25"/>
<line x1="392.00" y1="146.34" x2="388.00" y2="146.34" stroke="#000" stroke-width="1.25"/>
<line x1="207.50" y1="135.71" x2="209.50" y2="135.71" stroke="#000" stroke-width="1.25"/>
<line x1="392.00" y1="135.71" x2="390.00" y2="135.71" stroke="#000" stroke-width="1.25"/>
<line x1="207.50" y1="125.08" x2="209.50" y2="125.08" stroke="#000" stroke-width="1.25"/>
<line x1="392.00" y1="125.08" x2="390.00" y2="125.08" stroke="#000" stroke-width="1.25"/>
<line x1="207.50" y1="114.45" x2="209.50" y2="114.45" stroke="#000" stroke-width="1.25"/>
<line x1="392.00" y1="114.45" x2="390.00" y2="114.45" stroke="#000" stroke-width="1.25"/>
<line x1="207.50" y1="103.83" x2="209.50" y2="103.83" stroke="#000" stroke-width="1.25"/>
<line x1="392.00" y1="103.83" x2="390.00" y2="103.83" stroke="#000" stroke-width="1.25"/>
<line x1="207.50" y1="93.20" x2="211.50" y2="93.20" stroke="#000" stroke-width="1.25"/>
<line x1="392.00" y1="93.20" x2="388.00" y2="93.20" stroke="#000" stroke-width="1.25"/>
<g font-family="'Liberation Serif', serif" fill="#000">
<text transform="translate(74.90,378.30) scale(0.980,1)" font-size="22.10" text-anchor="middle">0</text>
<text transform="translate(141.91,378.30) scale(0.980,1)" font-size="22.10" text-anchor="middle">100</text>
<text transform="translate(208.92,378.30) scale(0.980,1)" font-size="22.10" text-anchor="middle">200</text>
<text transform="translate(275.93,378.30) scale(0.980,1)" font-size="22.10" text-anchor="middle">300</text>
<text transform="translate(342.94,378.30) scale(0.980,1)" font-size="22.10" text-anchor="middle">400</text>
<text transform="translate(397.50,378.30) scale(0.980,1)" font-size="22.10" text-anchor="middle">500</text>
<text transform="translate(69.10,360.20) scale(0.980,1)" font-size="22.10" text-anchor="end">0.00</text>
<text transform="translate(69.10,298.21) scale(0.980,1)" font-size="22.10" text-anchor="end">0.25</text>
<text transform="translate(69.10,236.23) scale(0.980,1)" font-size="22.10" text-anchor="end">0.50</text>
<text transform="translate(69.10,174.24) scale(0.980,1)" font-size="22.10" text-anchor="end">0.75</text>
<text transform="translate(69.10,112.26) scale(0.980,1)" font-size="22.10" text-anchor="end">1.00</text>
<text transform="translate(69.10,50.27) scale(0.980,1)" font-size="22.10" text-anchor="end">1.25</text>
<text transform="translate(207.50,331.00) scale(0.980,1)" font-size="22.10" text-anchor="middle">200</text>
<text transform="translate(269.00,331.00) scale(0.980,1)" font-size="22.10" text-anchor="middle">300</text>
<text transform="translate(330.50,331.00) scale(0.980,1)" font-size="22.10" text-anchor="middle">400</text>
<text transform="translate(391.00,331.00) scale(0.980,1)" font-size="22.10" text-anchor="middle">500</text>
<text transform="translate(201.70,313.75) scale(0.980,1)" font-size="22.10" text-anchor="end">0.000</text>
<text transform="translate(201.70,260.61) scale(0.980,1)" font-size="22.10" text-anchor="end">0.005</text>
<text transform="translate(201.70,207.47) scale(0.980,1)" font-size="22.10" text-anchor="end">0.010</text>
<text transform="translate(201.70,154.34) scale(0.980,1)" font-size="22.10" text-anchor="end">0.015</text>
<text transform="translate(201.70,101.20) scale(0.980,1)" font-size="22.10" text-anchor="end">0.020</text>
<text x="242.00" y="410.00" font-size="25.00" text-anchor="middle">p (MeV)</text>
<defs><clipPath id="cpsi"><rect x="-2" y="-12.6" width="22" height="22"/></clipPath></defs>
<g transform="translate(23,264.7) rotate(-90)" font-size="25.3"><g clip-path="url(#cpsi)"><text x="0" y="0">ψ</text></g><text x="18.4" y="3.5" font-size="19">d</text><text x="32.7" y="0"><tspan>(10</tspan><tspan font-size="15" dy="-11">-3</tspan><tspan dy="11"> MeV</tspan><tspan font-size="15" dy="-11">-3/2</tspan><tspan dy="11">)</tspan></text></g>
<text x="129.20" y="21.70" font-size="15.25" text-anchor="start">Bonn</text>
<text x="129.20" y="38.60" font-size="15.25" text-anchor="start">Paris</text>
<text x="129.20" y="55.70" font-size="15.25" text-anchor="start">Reidt (HC)</text>
<text x="129.20" y="72.50" font-size="15.25" text-anchor="start">Reidt (SC)</text>
<text x="295.70" y="21.40" font-size="15.42" text-anchor="start">Hulthen</text>
<text x="295.70" y="39.20" font-size="15.42" text-anchor="start">Chiral (R=0.8 fm)</text>
<text x="295.70" y="55.90" font-size="15.42" text-anchor="start">Chiral (R=1.2 fm)</text>
</g>
<line x1="92.00" y1="16.50" x2="112.70" y2="16.50" stroke="#000000" stroke-width="1.30"/>
<line x1="92.00" y1="33.50" x2="112.70" y2="33.50" stroke="#ff0000" stroke-width="1.25" stroke-dasharray="5.3 3.2"/>
<line x1="92.00" y1="50.80" x2="111.90" y2="50.80" stroke="#0a8a0a" stroke-width="1.40" stroke-dasharray="1.05 0.8"/>
<line x1="91.90" y1="67.70" x2="112.80" y2="67.70" stroke="#9a18b4" stroke-width="1.40" stroke-dasharray="1.1 3 6 3.1"/>
<line x1="258.50" y1="16.40" x2="276.90" y2="16.40" stroke="#ff8000" stroke-width="1.15" stroke-dasharray="4.7 2 1.2 2 1.2 2"/>
<line x1="258.50" y1="33.60" x2="278.30" y2="33.60" stroke="#0000ff" stroke-width="2.10"/>
<path d="M268.70 30.70 l2.20 3.00 l-2.20 3.00 l-2.20 -3.00 z" fill="#0000c8"/>
<line x1="258.40" y1="50.70" x2="278.30" y2="50.70" stroke="#6e6e6e" stroke-width="1.15"/>
<rect x="266.0" y="48.60" width="4.6" height="4.2" rx="0.9" fill="#8e8e8e" stroke="#707070" stroke-width="0.5"/>
</svg>
</body></html>
